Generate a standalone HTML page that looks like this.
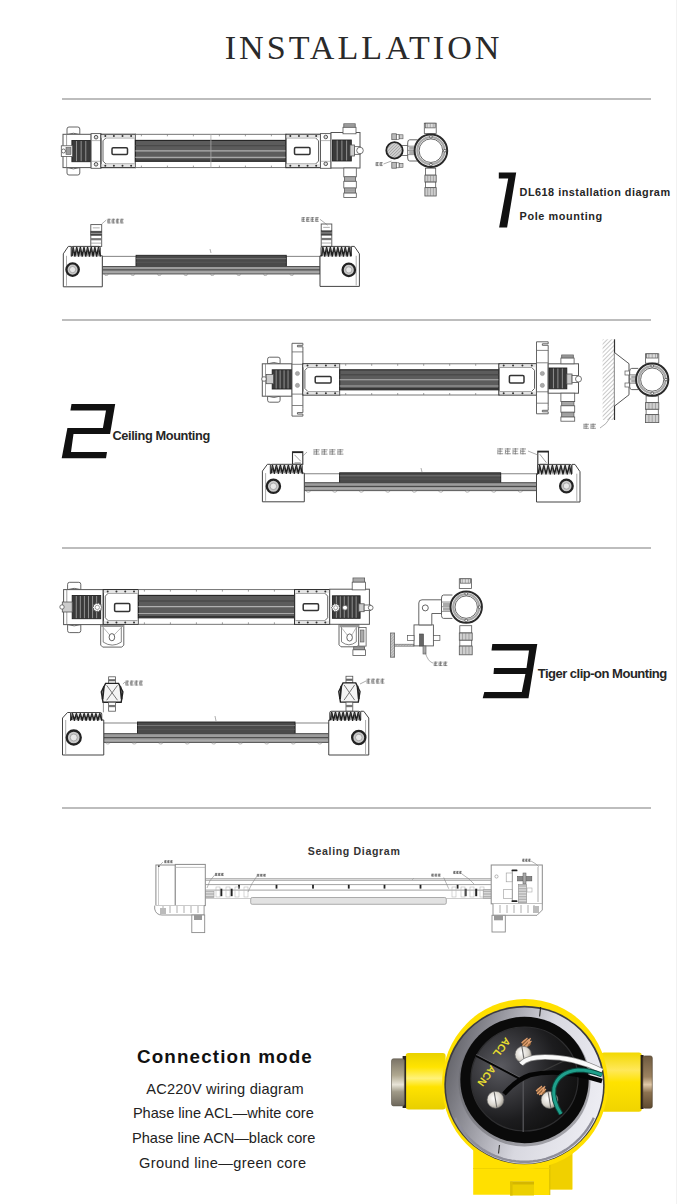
<!DOCTYPE html>
<html><head><meta charset="utf-8">
<style>
html,body{margin:0;padding:0;background:#fff;}
body{width:680px;height:1204px;position:relative;overflow:hidden;font-family:"Liberation Sans",sans-serif;color:#222;}
.t{position:absolute;white-space:nowrap;line-height:1;}
.hr{position:absolute;left:62px;width:589px;height:2px;background:#bdbdbd;}
svg{position:absolute;left:0;top:0;}
</style></head><body>
<div class="t" id="title" style="left:224.7px;top:31.1px;font-family:'Liberation Serif',serif;font-size:34.09px;letter-spacing:3.03px;color:#2a2a2a;">INSTALLATION</div>
<div id="edge" style="position:absolute;left:676px;top:0;width:1px;height:1204px;background:#f2f2f2"></div>
<div class="hr" style="top:98px"></div>
<div class="hr" style="top:319px"></div>
<div class="hr" style="top:547px"></div>
<div class="hr" style="top:807px"></div>
<div class="t" id="t1a" style="color:#262626;left:519.6px;top:187.25px;font-size:10.87px;font-weight:bold;letter-spacing:0.49px;">DL618 installation diagram</div>
<div class="t" id="t1b" style="color:#262626;left:519.6px;top:210.75px;font-size:10.87px;font-weight:bold;letter-spacing:0.6px;">Pole mounting</div>
<div class="t" id="t2" style="color:#262626;left:112.5px;top:430px;font-size:12.75px;font-weight:bold;letter-spacing:-0.38px;">Ceiling Mounting</div>
<div class="t" id="t3" style="color:#262626;left:537.7px;top:666.7px;font-size:13.04px;font-weight:bold;letter-spacing:-0.51px;">Tiger clip-on Mounting</div>
<div class="t" id="t4" style="color:#333;left:307.8px;top:846.4px;font-size:10.58px;font-weight:bold;letter-spacing:0.65px;">Sealing Diagram</div>
<div class="t" id="c0" style="left:136.9px;top:1047.8px;font-size:18.84px;font-weight:bold;letter-spacing:1.14px;color:#111;">Connection mode</div>
<div class="t" id="c1" style="left:146.3px;top:1082.2px;font-size:14.6px;letter-spacing:0.2px;">AC220V wiring diagram</div>
<div class="t" id="c2" style="left:132.9px;top:1106.3px;font-size:14.6px;letter-spacing:0.0px;">Phase line ACL—white core</div>
<div class="t" id="c3" style="left:132px;top:1131.0px;font-size:14.6px;letter-spacing:0.0px;">Phase line ACN—black core</div>
<div class="t" id="c4" style="left:139px;top:1155.6px;font-size:14.6px;letter-spacing:0.35px;">Ground line—green core</div>
<svg width="680" height="1204" viewBox="0 0 680 1204">
<path d="M67.00,134.50 L67.00,129.00 Q67.00,127.00 69.00,127.00 L77.80,127.00 Q79.80,127.00 79.80,129.00 L79.80,134.50 Q73.40,132.00 67.00,134.50Z" fill="#fff" stroke="#555" stroke-width="0.9" />
<path d="M67.00,167.60 L67.00,173.00 Q67.00,175.00 69.00,175.00 L77.80,175.00 Q79.80,175.00 79.80,173.00 L79.80,167.60 Q73.40,170.10 67.00,167.60Z" fill="#fff" stroke="#555" stroke-width="0.9" />
<rect x="63.00" y="134.30" width="28.10" height="33.30" fill="#fff" stroke="#555" stroke-width="1" rx="0" />
<line x1="66.60" y1="134.30" x2="66.60" y2="167.60" stroke="#777" stroke-width="0.7" />
<rect x="71.90" y="140.50" width="18.50" height="21.20" fill="#3a3a3a" stroke="#222" stroke-width="0.9" rx="0" />
<line x1="76.53" y1="141.00" x2="76.53" y2="161.20" stroke="#9a9a9a" stroke-width="0.9" />
<line x1="81.15" y1="141.00" x2="81.15" y2="161.20" stroke="#9a9a9a" stroke-width="0.9" />
<line x1="85.78" y1="141.00" x2="85.78" y2="161.20" stroke="#9a9a9a" stroke-width="0.9" />
<rect x="61.30" y="145.80" width="11.30" height="10.60" fill="#fff" stroke="#555" stroke-width="0.8" rx="0" />
<circle cx="63.50" cy="151.00" r="2.00" fill="#fff" stroke="#555" stroke-width="0.8"/>
<rect x="66.00" y="147.50" width="5.00" height="7.00" fill="#999" stroke="#555" stroke-width="0.6" rx="0" />
<rect x="91.10" y="133.60" width="9.90" height="34.70" fill="#fff" stroke="#555" stroke-width="0.9" rx="0" />
<circle cx="96.05" cy="137.20" r="1.80" fill="#ddd" stroke="#444" stroke-width="0.9"/>
<circle cx="96.05" cy="164.30" r="1.80" fill="#ddd" stroke="#444" stroke-width="0.9"/>
<line x1="91.10" y1="140.60" x2="101.00" y2="140.60" stroke="#888" stroke-width="0.6" />
<line x1="91.10" y1="161.30" x2="101.00" y2="161.30" stroke="#888" stroke-width="0.6" />
<rect x="101.00" y="134.30" width="34.40" height="33.30" fill="#fff" stroke="#333" stroke-width="1.2" rx="0" />
<path d="M134.40,137.80 L106.00,137.80 L103.00,140.80 L103.00,161.10 L106.00,164.10 L134.40,164.10" fill="none" stroke="#555" stroke-width="0.9" />
<rect x="101.50" y="134.80" width="33.40" height="3.00" fill="#e4e4e4" stroke="none" stroke-width="0" rx="0" />
<rect x="101.50" y="164.10" width="33.40" height="3.00" fill="#e4e4e4" stroke="none" stroke-width="0" rx="0" />
<circle cx="105.30" cy="136.10" r="1.00" fill="#333" stroke="none" stroke-width="0"/>
<circle cx="105.30" cy="165.80" r="1.00" fill="#333" stroke="none" stroke-width="0"/>
<circle cx="113.90" cy="136.10" r="1.00" fill="#333" stroke="none" stroke-width="0"/>
<circle cx="113.90" cy="165.80" r="1.00" fill="#333" stroke="none" stroke-width="0"/>
<circle cx="122.50" cy="136.10" r="1.00" fill="#333" stroke="none" stroke-width="0"/>
<circle cx="122.50" cy="165.80" r="1.00" fill="#333" stroke="none" stroke-width="0"/>
<circle cx="131.10" cy="136.10" r="1.00" fill="#333" stroke="none" stroke-width="0"/>
<circle cx="131.10" cy="165.80" r="1.00" fill="#333" stroke="none" stroke-width="0"/>
<rect x="112.00" y="147.80" width="15.50" height="6.60" fill="#fff" stroke="#333" stroke-width="1.5" rx="1.2" />
<rect x="135.40" y="134.30" width="150.60" height="33.30" fill="#fff" stroke="#666" stroke-width="0.9" rx="0" />
<rect x="135.40" y="140.40" width="150.60" height="20.90" fill="#5c5c5c" stroke="#222" stroke-width="1.1" rx="0" />
<line x1="135.40" y1="150.85" x2="286.00" y2="150.85" stroke="#b0b0b0" stroke-width="1.1" />
<line x1="135.40" y1="157.33" x2="286.00" y2="157.33" stroke="#a8a8a8" stroke-width="1.1" />
<line x1="135.40" y1="145.62" x2="286.00" y2="145.62" stroke="#4a4a4a" stroke-width="1.4" />
<line x1="135.40" y1="160.05" x2="286.00" y2="160.05" stroke="#333" stroke-width="1.0" />
<line x1="141.40" y1="134.30" x2="141.40" y2="136.30" stroke="#777" stroke-width="0.7" />
<line x1="141.40" y1="165.60" x2="141.40" y2="167.60" stroke="#777" stroke-width="0.7" />
<line x1="167.40" y1="134.30" x2="167.40" y2="136.30" stroke="#777" stroke-width="0.7" />
<line x1="167.40" y1="165.60" x2="167.40" y2="167.60" stroke="#777" stroke-width="0.7" />
<line x1="193.40" y1="134.30" x2="193.40" y2="136.30" stroke="#777" stroke-width="0.7" />
<line x1="193.40" y1="165.60" x2="193.40" y2="167.60" stroke="#777" stroke-width="0.7" />
<line x1="219.40" y1="134.30" x2="219.40" y2="136.30" stroke="#777" stroke-width="0.7" />
<line x1="219.40" y1="165.60" x2="219.40" y2="167.60" stroke="#777" stroke-width="0.7" />
<line x1="245.40" y1="134.30" x2="245.40" y2="136.30" stroke="#777" stroke-width="0.7" />
<line x1="245.40" y1="165.60" x2="245.40" y2="167.60" stroke="#777" stroke-width="0.7" />
<line x1="271.40" y1="134.30" x2="271.40" y2="136.30" stroke="#777" stroke-width="0.7" />
<line x1="271.40" y1="165.60" x2="271.40" y2="167.60" stroke="#777" stroke-width="0.7" />
<line x1="210.90" y1="134.30" x2="210.90" y2="167.60" stroke="#aaa" stroke-width="0.8" />
<rect x="286.00" y="134.30" width="34.50" height="33.30" fill="#fff" stroke="#333" stroke-width="1.2" rx="0" />
<path d="M287.00,137.80 L315.50,137.80 L318.50,140.80 L318.50,161.10 L315.50,164.10 L287.00,164.10" fill="none" stroke="#555" stroke-width="0.9" />
<rect x="286.50" y="134.80" width="33.50" height="3.00" fill="#e4e4e4" stroke="none" stroke-width="0" rx="0" />
<rect x="286.50" y="164.10" width="33.50" height="3.00" fill="#e4e4e4" stroke="none" stroke-width="0" rx="0" />
<circle cx="290.31" cy="136.10" r="1.00" fill="#333" stroke="none" stroke-width="0"/>
<circle cx="290.31" cy="165.80" r="1.00" fill="#333" stroke="none" stroke-width="0"/>
<circle cx="298.94" cy="136.10" r="1.00" fill="#333" stroke="none" stroke-width="0"/>
<circle cx="298.94" cy="165.80" r="1.00" fill="#333" stroke="none" stroke-width="0"/>
<circle cx="307.56" cy="136.10" r="1.00" fill="#333" stroke="none" stroke-width="0"/>
<circle cx="307.56" cy="165.80" r="1.00" fill="#333" stroke="none" stroke-width="0"/>
<circle cx="316.19" cy="136.10" r="1.00" fill="#333" stroke="none" stroke-width="0"/>
<circle cx="316.19" cy="165.80" r="1.00" fill="#333" stroke="none" stroke-width="0"/>
<rect x="294.50" y="147.50" width="15.50" height="7.00" fill="#fff" stroke="#333" stroke-width="1.5" rx="1.2" />
<rect x="320.50" y="133.60" width="10.50" height="34.70" fill="#fff" stroke="#555" stroke-width="0.9" rx="0" />
<circle cx="325.75" cy="137.00" r="1.80" fill="#ddd" stroke="#444" stroke-width="0.9"/>
<circle cx="325.75" cy="163.80" r="1.80" fill="#ddd" stroke="#444" stroke-width="0.9"/>
<line x1="320.50" y1="140.60" x2="331.00" y2="140.60" stroke="#888" stroke-width="0.6" />
<line x1="320.50" y1="161.30" x2="331.00" y2="161.30" stroke="#888" stroke-width="0.6" />
<rect x="331.00" y="132.50" width="29.00" height="35.50" fill="#fff" stroke="#555" stroke-width="1" rx="0" />
<rect x="332.50" y="140.00" width="18.80" height="21.00" fill="#3a3a3a" stroke="#222" stroke-width="0.9" rx="0" />
<line x1="337.20" y1="140.50" x2="337.20" y2="160.50" stroke="#9a9a9a" stroke-width="0.9" />
<line x1="341.90" y1="140.50" x2="341.90" y2="160.50" stroke="#9a9a9a" stroke-width="0.9" />
<line x1="346.60" y1="140.50" x2="346.60" y2="160.50" stroke="#9a9a9a" stroke-width="0.9" />
<rect x="350.00" y="145.00" width="4.50" height="11.00" fill="#ccc" stroke="#555" stroke-width="0.8" rx="0" />
<rect x="354.50" y="146.65" width="5.50" height="7.70" fill="#fff" stroke="#555" stroke-width="0.8" rx="0" />
<circle cx="360.00" cy="150.50" r="3.30" fill="#fff" stroke="#555" stroke-width="0.8"/>
<rect x="343.80" y="123.80" width="11.40" height="3.50" fill="#dcdcdc" stroke="#555" stroke-width="0.8" rx="0" />
<rect x="343.00" y="127.30" width="13.00" height="6.50" fill="#fff" stroke="#555" stroke-width="0.8" rx="0" />
<line x1="344.00" y1="124.67" x2="355.00" y2="124.67" stroke="#666" stroke-width="0.5" />
<line x1="344.00" y1="125.55" x2="355.00" y2="125.55" stroke="#666" stroke-width="0.5" />
<line x1="344.00" y1="126.42" x2="355.00" y2="126.42" stroke="#666" stroke-width="0.5" />
<rect x="343.80" y="168.00" width="12.50" height="8.85" fill="#fff" stroke="#555" stroke-width="0.8" rx="0" />
<rect x="344.60" y="176.85" width="10.90" height="4.43" fill="#d8d8d8" stroke="#555" stroke-width="0.8" rx="0" />
<rect x="343.80" y="181.28" width="12.50" height="6.79" fill="#fff" stroke="#555" stroke-width="0.8" rx="0" />
<rect x="344.60" y="188.06" width="10.90" height="5.01" fill="#d0d0d0" stroke="#555" stroke-width="0.8" rx="0" />
<rect x="343.80" y="193.07" width="12.50" height="4.43" fill="#fff" stroke="#555" stroke-width="0.8" rx="0" />
<line x1="344.80" y1="177.96" x2="355.30" y2="177.96" stroke="#666" stroke-width="0.5" />
<line x1="344.80" y1="179.06" x2="355.30" y2="179.06" stroke="#666" stroke-width="0.5" />
<line x1="344.80" y1="180.17" x2="355.30" y2="180.17" stroke="#666" stroke-width="0.5" />
<line x1="344.80" y1="189.31" x2="355.30" y2="189.31" stroke="#666" stroke-width="0.5" />
<line x1="344.80" y1="190.57" x2="355.30" y2="190.57" stroke="#666" stroke-width="0.5" />
<line x1="344.80" y1="191.82" x2="355.30" y2="191.82" stroke="#666" stroke-width="0.5" />
<rect x="90.80" y="224.60" width="10.90" height="21.80" fill="#fff" stroke="#555" stroke-width="0.9" rx="0" />
<rect x="90.80" y="231.14" width="10.90" height="4.36" fill="#444" stroke="#444" stroke-width="0.5" rx="0" />
<line x1="90.80" y1="233.32" x2="101.70" y2="233.32" stroke="#ddd" stroke-width="0.6" />
<rect x="90.80" y="238.12" width="10.90" height="2.18" fill="#777" stroke="none" stroke-width="0" rx="0" />
<line x1="92.80" y1="227.87" x2="99.70" y2="227.87" stroke="#777" stroke-width="0.6" />
<line x1="90.80" y1="243.13" x2="101.70" y2="243.13" stroke="#777" stroke-width="0.6" />
<line x1="101.70" y1="224.00" x2="106.30" y2="220.00" stroke="#777" stroke-width="0.6" />
<path d="M107.30,219.32 L110.74,219.32 M107.94,221.00 L110.31,221.00 M107.30,222.92 L110.74,222.92 M109.02,218.60 L109.02,223.40 M107.73,220.04 L107.73,222.44" fill="none" stroke="#666" stroke-width="0.7" />
<path d="M111.60,219.32 L115.04,219.32 M112.24,221.00 L114.61,221.00 M111.60,222.92 L115.04,222.92 M113.32,218.60 L113.32,223.40 M112.03,220.04 L112.03,222.44" fill="none" stroke="#666" stroke-width="0.7" />
<path d="M115.90,219.32 L119.34,219.32 M116.54,221.00 L118.91,221.00 M115.90,222.92 L119.34,222.92 M117.62,218.60 L117.62,223.40 M116.33,220.04 L116.33,222.44" fill="none" stroke="#666" stroke-width="0.7" />
<path d="M120.20,219.32 L123.64,219.32 M120.84,221.00 L123.21,221.00 M120.20,222.92 L123.64,222.92 M121.92,218.60 L121.92,223.40 M120.63,220.04 L120.63,222.44" fill="none" stroke="#666" stroke-width="0.7" />
<rect x="321.20" y="224.00" width="10.60" height="22.40" fill="#fff" stroke="#555" stroke-width="0.9" rx="0" />
<rect x="321.20" y="230.72" width="10.60" height="4.48" fill="#444" stroke="#444" stroke-width="0.5" rx="0" />
<line x1="321.20" y1="232.96" x2="331.80" y2="232.96" stroke="#ddd" stroke-width="0.6" />
<rect x="321.20" y="237.89" width="10.60" height="2.24" fill="#777" stroke="none" stroke-width="0" rx="0" />
<line x1="323.20" y1="227.36" x2="329.80" y2="227.36" stroke="#777" stroke-width="0.6" />
<line x1="321.20" y1="243.04" x2="331.80" y2="243.04" stroke="#777" stroke-width="0.6" />
<line x1="320.00" y1="219.30" x2="327.60" y2="225.20" stroke="#777" stroke-width="0.6" />
<path d="M301.50,217.72 L305.14,217.72 M302.18,219.40 L304.69,219.40 M301.50,221.32 L305.14,221.32 M303.32,217.00 L303.32,221.80 M301.95,218.44 L301.95,220.84" fill="none" stroke="#666" stroke-width="0.7" />
<path d="M306.05,217.72 L309.69,217.72 M306.73,219.40 L309.24,219.40 M306.05,221.32 L309.69,221.32 M307.87,217.00 L307.87,221.80 M306.50,218.44 L306.50,220.84" fill="none" stroke="#666" stroke-width="0.7" />
<path d="M310.60,217.72 L314.24,217.72 M311.28,219.40 L313.78,219.40 M310.60,221.32 L314.24,221.32 M312.42,217.00 L312.42,221.80 M311.05,218.44 L311.05,220.84" fill="none" stroke="#666" stroke-width="0.7" />
<path d="M315.15,217.72 L318.79,217.72 M315.83,219.40 L318.33,219.40 M315.15,221.32 L318.79,221.32 M316.97,217.00 L316.97,221.80 M315.60,218.44 L315.60,220.84" fill="none" stroke="#666" stroke-width="0.7" />
<rect x="102.30" y="256.30" width="33.80" height="10.20" fill="#fff" stroke="#666" stroke-width="0.8" rx="0" />
<rect x="286.25" y="256.30" width="33.75" height="10.20" fill="#fff" stroke="#666" stroke-width="0.8" rx="0" />
<rect x="136.10" y="255.30" width="150.15" height="11.20" fill="#4a4a4a" stroke="#222" stroke-width="0.9" rx="0" />
<line x1="136.10" y1="258.66" x2="286.25" y2="258.66" stroke="#8a8a8a" stroke-width="0.7" />
<line x1="136.10" y1="262.24" x2="286.25" y2="262.24" stroke="#5a5a5a" stroke-width="0.8" />
<rect x="102.30" y="266.50" width="217.70" height="7.50" fill="#9c9c9c" stroke="#444" stroke-width="0.8" rx="0" />
<line x1="102.30" y1="269.88" x2="320.00" y2="269.88" stroke="#333" stroke-width="0.9" />
<line x1="102.30" y1="272.12" x2="320.00" y2="272.12" stroke="#bbb" stroke-width="0.6" />
<ellipse cx="106.30" cy="274.60" rx="1.8" ry="0.9" fill="none" stroke="#888" stroke-width="0.6"/>
<ellipse cx="132.80" cy="274.60" rx="1.8" ry="0.9" fill="none" stroke="#888" stroke-width="0.6"/>
<ellipse cx="159.30" cy="274.60" rx="1.8" ry="0.9" fill="none" stroke="#888" stroke-width="0.6"/>
<ellipse cx="185.80" cy="274.60" rx="1.8" ry="0.9" fill="none" stroke="#888" stroke-width="0.6"/>
<ellipse cx="212.30" cy="274.60" rx="1.8" ry="0.9" fill="none" stroke="#888" stroke-width="0.6"/>
<ellipse cx="238.80" cy="274.60" rx="1.8" ry="0.9" fill="none" stroke="#888" stroke-width="0.6"/>
<ellipse cx="265.30" cy="274.60" rx="1.8" ry="0.9" fill="none" stroke="#888" stroke-width="0.6"/>
<ellipse cx="291.80" cy="274.60" rx="1.8" ry="0.9" fill="none" stroke="#888" stroke-width="0.6"/>
<path d="M63.30,286.80 L63.30,253.80 L68.30,246.40 L71.30,246.40 L71.30,255.80 L102.30,255.80 L102.30,286.80 Z" fill="#fff" stroke="#444" stroke-width="1" />
<line x1="66.50" y1="255.80" x2="66.50" y2="285.80" stroke="#888" stroke-width="0.7" />
<path d="M71.30,256.80 L71.30,247.90 Q71.30,246.40 72.80,246.40 L98.80,246.40 Q100.30,246.40 100.30,247.90 L100.30,256.80" fill="#e8e8e8" stroke="#333" stroke-width="0.9" />
<path d="M72.10,256.00 L73.11,247.60 L74.92,256.00 L76.74,247.60 L78.55,256.00 L80.36,247.60 L82.17,256.00 L83.99,247.60 L85.80,256.00 L87.61,247.60 L89.42,256.00 L91.24,247.60 L93.05,256.00 L94.86,247.60 L96.67,256.00 L98.49,247.60 L100.30,256.00" fill="none" stroke="#1e1e1e" stroke-width="1.5" stroke-linejoin="round"/>
<path d="M73.11,248.40 L73.11,255.80 M76.74,248.40 L76.74,255.80 M80.36,248.40 L80.36,255.80 M83.99,248.40 L83.99,255.80 M87.61,248.40 L87.61,255.80 M91.24,248.40 L91.24,255.80 M94.86,248.40 L94.86,255.80 M98.49,248.40 L98.49,255.80 " fill="none" stroke="#555" stroke-width="0.7" />
<circle cx="72.60" cy="269.60" r="6.20" fill="#c8c8c8" stroke="#222" stroke-width="2.3"/>
<circle cx="72.60" cy="269.60" r="3.10" fill="#e8e8e8" stroke="#888" stroke-width="0.6"/>
<path d="M359.40,286.40 L359.40,253.80 L354.40,246.40 L351.40,246.40 L351.40,255.80 L320.00,255.80 L320.00,286.40 Z" fill="#fff" stroke="#444" stroke-width="1" />
<line x1="356.20" y1="255.80" x2="356.20" y2="285.40" stroke="#888" stroke-width="0.7" />
<path d="M321.00,256.80 L321.00,247.90 Q321.00,246.40 322.50,246.40 L349.40,246.40 Q350.90,246.40 350.90,247.90 L350.90,256.80" fill="#e8e8e8" stroke="#333" stroke-width="0.9" />
<path d="M321.80,256.00 L322.87,247.60 L324.74,256.00 L326.61,247.60 L328.48,256.00 L330.34,247.60 L332.21,256.00 L334.08,247.60 L335.95,256.00 L337.82,247.60 L339.69,256.00 L341.56,247.60 L343.43,256.00 L345.29,247.60 L347.16,256.00 L349.03,247.60 L350.90,256.00" fill="none" stroke="#1e1e1e" stroke-width="1.5" stroke-linejoin="round"/>
<path d="M322.87,248.40 L322.87,255.80 M326.61,248.40 L326.61,255.80 M330.34,248.40 L330.34,255.80 M334.08,248.40 L334.08,255.80 M337.82,248.40 L337.82,255.80 M341.56,248.40 L341.56,255.80 M345.29,248.40 L345.29,255.80 M349.03,248.40 L349.03,255.80 " fill="none" stroke="#555" stroke-width="0.7" />
<circle cx="348.80" cy="269.90" r="6.20" fill="#c8c8c8" stroke="#222" stroke-width="2.3"/>
<circle cx="348.80" cy="269.90" r="3.10" fill="#e8e8e8" stroke="#888" stroke-width="0.6"/>
<line x1="211.00" y1="253.00" x2="210.00" y2="249.00" stroke="#777" stroke-width="0.6" />
<rect x="391.80" y="133.80" width="4.50" height="5.90" fill="#bbb" stroke="#555" stroke-width="0.7" rx="0" />
<rect x="396.50" y="134.30" width="2.50" height="5.00" fill="#fff" stroke="#555" stroke-width="0.6" rx="0" />
<rect x="399.50" y="134.80" width="3.50" height="4.00" fill="#ccc" stroke="#555" stroke-width="0.6" rx="0" />
<rect x="391.80" y="162.30" width="4.50" height="5.90" fill="#bbb" stroke="#555" stroke-width="0.7" rx="0" />
<rect x="396.50" y="162.80" width="2.50" height="5.00" fill="#fff" stroke="#555" stroke-width="0.6" rx="0" />
<rect x="399.50" y="163.30" width="3.50" height="4.00" fill="#ccc" stroke="#555" stroke-width="0.6" rx="0" />
<rect x="400.00" y="145.50" width="9.00" height="10.00" fill="#fff" stroke="#555" stroke-width="0.8" rx="0" />
<defs><pattern id="hatch" width="2.2" height="2.2" patternUnits="userSpaceOnUse" patternTransform="rotate(45)"><rect width="2.2" height="2.2" fill="#d0d0d0"/><line x1="0" y1="0" x2="0" y2="2.2" stroke="#888" stroke-width="0.9"/></pattern></defs>
<circle cx="394.50" cy="150.40" r="8.20" fill="url(#hatch)" stroke="#222" stroke-width="1.8"/>
<rect x="424.30" y="123.20" width="11.90" height="10.40" fill="#fff" stroke="#555" stroke-width="0.8" rx="0" />
<rect x="425.30" y="123.20" width="9.90" height="4.68" fill="#ddd" stroke="#555" stroke-width="0.7" rx="0" />
<line x1="427.27" y1="123.20" x2="427.27" y2="127.88" stroke="#777" stroke-width="0.5" />
<line x1="430.25" y1="123.20" x2="430.25" y2="127.88" stroke="#777" stroke-width="0.5" />
<line x1="433.23" y1="123.20" x2="433.23" y2="127.88" stroke="#777" stroke-width="0.5" />
<rect x="425.40" y="168.20" width="10.30" height="6.95" fill="#fff" stroke="#555" stroke-width="0.8" rx="0" />
<rect x="424.90" y="175.15" width="11.30" height="6.95" fill="#cfcfcf" stroke="#555" stroke-width="0.8" rx="0" />
<rect x="425.40" y="182.10" width="10.30" height="5.56" fill="#fff" stroke="#555" stroke-width="0.8" rx="0" />
<rect x="424.90" y="187.66" width="11.30" height="8.34" fill="#cfcfcf" stroke="#555" stroke-width="0.8" rx="0" />
<line x1="427.72" y1="175.15" x2="427.72" y2="182.10" stroke="#777" stroke-width="0.5" />
<line x1="430.55" y1="175.15" x2="430.55" y2="182.10" stroke="#777" stroke-width="0.5" />
<line x1="433.38" y1="175.15" x2="433.38" y2="182.10" stroke="#777" stroke-width="0.5" />
<line x1="427.72" y1="187.66" x2="427.72" y2="196.00" stroke="#777" stroke-width="0.5" />
<line x1="430.55" y1="187.66" x2="430.55" y2="196.00" stroke="#777" stroke-width="0.5" />
<line x1="433.38" y1="187.66" x2="433.38" y2="196.00" stroke="#777" stroke-width="0.5" />
<path d="M417.70,139.80 L409.70,139.80 Q407.70,139.80 407.70,142.80 L407.70,158.00 Q407.70,161.00 409.70,161.00 L417.70,161.00" fill="#fff" stroke="#555" stroke-width="0.9" />
<line x1="407.70" y1="146.16" x2="415.70" y2="146.16" stroke="#666" stroke-width="0.7" />
<line x1="407.70" y1="150.40" x2="415.70" y2="150.40" stroke="#666" stroke-width="0.7" />
<line x1="407.70" y1="154.64" x2="415.70" y2="154.64" stroke="#666" stroke-width="0.7" />
<rect x="409.20" y="146.80" width="7.00" height="2.97" fill="#aaa" stroke="none" stroke-width="0" rx="0" />
<rect x="409.20" y="151.04" width="7.00" height="2.97" fill="#aaa" stroke="none" stroke-width="0" rx="0" />
<circle cx="430.90" cy="150.70" r="16.30" fill="#fff" stroke="#2a2a2a" stroke-width="2.0"/>
<circle cx="430.90" cy="150.70" r="13.60" fill="none" stroke="#a8a8a8" stroke-width="2.2"/>
<circle cx="430.90" cy="150.70" r="11.80" fill="#fff" stroke="#444" stroke-width="0.8"/>
<circle cx="430.90" cy="136.80" r="1.30" fill="#fff" stroke="#333" stroke-width="0.7"/>
<circle cx="430.90" cy="164.60" r="1.30" fill="#fff" stroke="#333" stroke-width="0.7"/>
<circle cx="444.80" cy="150.70" r="1.30" fill="#fff" stroke="#333" stroke-width="0.7"/>
<line x1="383.50" y1="164.00" x2="391.50" y2="161.00" stroke="#777" stroke-width="0.6" />
<path d="M375.60,162.60 L378.76,162.60 M376.19,164.00 L378.37,164.00 M375.60,165.60 L378.76,165.60 M377.18,162.00 L377.18,166.00 M376.00,163.20 L376.00,165.20" fill="none" stroke="#666" stroke-width="0.7" />
<path d="M379.55,162.60 L382.71,162.60 M380.14,164.00 L382.31,164.00 M379.55,165.60 L382.71,165.60 M381.13,162.00 L381.13,166.00 M379.94,163.20 L379.94,165.20" fill="none" stroke="#666" stroke-width="0.7" />
<path d="M267.60,363.80 L267.60,359.20 Q267.60,357.20 269.60,357.20 L278.10,357.20 Q280.10,357.20 280.10,359.20 L280.10,363.80 Q273.85,361.30 267.60,363.80Z" fill="#fff" stroke="#555" stroke-width="0.9" />
<path d="M267.60,396.20 L267.60,400.20 Q267.60,402.20 269.60,402.20 L278.10,402.20 Q280.10,402.20 280.10,400.20 L280.10,396.20 Q273.85,398.70 267.60,396.20Z" fill="#fff" stroke="#555" stroke-width="0.9" />
<rect x="262.30" y="363.80" width="29.70" height="32.40" fill="#fff" stroke="#555" stroke-width="1" rx="0" />
<line x1="265.50" y1="363.80" x2="265.50" y2="396.20" stroke="#777" stroke-width="0.7" />
<rect x="272.20" y="369.80" width="19.80" height="19.20" fill="#3a3a3a" stroke="#222" stroke-width="0.9" rx="0" />
<line x1="276.16" y1="370.30" x2="276.16" y2="388.50" stroke="#9a9a9a" stroke-width="0.9" />
<line x1="280.12" y1="370.30" x2="280.12" y2="388.50" stroke="#9a9a9a" stroke-width="0.9" />
<line x1="284.08" y1="370.30" x2="284.08" y2="388.50" stroke="#9a9a9a" stroke-width="0.9" />
<line x1="288.04" y1="370.30" x2="288.04" y2="388.50" stroke="#9a9a9a" stroke-width="0.9" />
<rect x="266.20" y="374.40" width="7.30" height="9.30" fill="#ccc" stroke="#555" stroke-width="0.8" rx="0" />
<circle cx="264.00" cy="379.00" r="2.30" fill="#fff" stroke="#555" stroke-width="0.8"/>
<path d="M292.00,343.30 L302.90,343.30 L302.90,345.30 L297.45,345.30 L297.45,346.80 L302.90,346.80 L302.90,350.80 L302.90,408.60 L302.90,412.60 L297.45,412.60 L297.45,414.10 L302.90,414.10 L302.90,416.10 L292.00,416.10 Z" fill="#fff" stroke="#555" stroke-width="0.9" />
<line x1="292.00" y1="351.90" x2="302.90" y2="351.90" stroke="#666" stroke-width="0.8" />
<line x1="292.00" y1="364.30" x2="302.90" y2="364.30" stroke="#666" stroke-width="0.8" />
<line x1="292.00" y1="394.10" x2="302.90" y2="394.10" stroke="#666" stroke-width="0.8" />
<line x1="292.00" y1="405.50" x2="302.90" y2="405.50" stroke="#666" stroke-width="0.8" />
<circle cx="297.45" cy="373.50" r="2.10" fill="#aaa" stroke="#888" stroke-width="0.5"/>
<circle cx="297.45" cy="385.40" r="2.10" fill="#aaa" stroke="#888" stroke-width="0.5"/>
<rect x="302.90" y="363.80" width="36.80" height="31.20" fill="#fff" stroke="#333" stroke-width="1.2" rx="0" />
<path d="M338.70,367.30 L307.90,367.30 L304.90,370.30 L304.90,388.50 L307.90,391.50 L338.70,391.50" fill="none" stroke="#555" stroke-width="0.9" />
<rect x="303.40" y="364.30" width="35.80" height="3.00" fill="#e4e4e4" stroke="none" stroke-width="0" rx="0" />
<rect x="303.40" y="391.50" width="35.80" height="3.00" fill="#e4e4e4" stroke="none" stroke-width="0" rx="0" />
<circle cx="307.50" cy="365.60" r="1.00" fill="#333" stroke="none" stroke-width="0"/>
<circle cx="307.50" cy="393.20" r="1.00" fill="#333" stroke="none" stroke-width="0"/>
<circle cx="316.70" cy="365.60" r="1.00" fill="#333" stroke="none" stroke-width="0"/>
<circle cx="316.70" cy="393.20" r="1.00" fill="#333" stroke="none" stroke-width="0"/>
<circle cx="325.90" cy="365.60" r="1.00" fill="#333" stroke="none" stroke-width="0"/>
<circle cx="325.90" cy="393.20" r="1.00" fill="#333" stroke="none" stroke-width="0"/>
<circle cx="335.10" cy="365.60" r="1.00" fill="#333" stroke="none" stroke-width="0"/>
<circle cx="335.10" cy="393.20" r="1.00" fill="#333" stroke="none" stroke-width="0"/>
<rect x="315.20" y="376.40" width="15.90" height="6.60" fill="#fff" stroke="#333" stroke-width="1.5" rx="1.2" />
<rect x="339.70" y="363.80" width="159.30" height="31.20" fill="#fff" stroke="#666" stroke-width="0.9" rx="0" />
<rect x="339.70" y="369.80" width="159.30" height="20.00" fill="#5c5c5c" stroke="#222" stroke-width="1.1" rx="0" />
<line x1="339.70" y1="379.80" x2="499.00" y2="379.80" stroke="#b0b0b0" stroke-width="1.1" />
<line x1="339.70" y1="386.00" x2="499.00" y2="386.00" stroke="#a8a8a8" stroke-width="1.1" />
<line x1="339.70" y1="374.80" x2="499.00" y2="374.80" stroke="#4a4a4a" stroke-width="1.4" />
<line x1="339.70" y1="388.60" x2="499.00" y2="388.60" stroke="#333" stroke-width="1.0" />
<line x1="345.70" y1="363.80" x2="345.70" y2="365.80" stroke="#777" stroke-width="0.7" />
<line x1="345.70" y1="393.00" x2="345.70" y2="395.00" stroke="#777" stroke-width="0.7" />
<line x1="371.70" y1="363.80" x2="371.70" y2="365.80" stroke="#777" stroke-width="0.7" />
<line x1="371.70" y1="393.00" x2="371.70" y2="395.00" stroke="#777" stroke-width="0.7" />
<line x1="397.70" y1="363.80" x2="397.70" y2="365.80" stroke="#777" stroke-width="0.7" />
<line x1="397.70" y1="393.00" x2="397.70" y2="395.00" stroke="#777" stroke-width="0.7" />
<line x1="423.70" y1="363.80" x2="423.70" y2="365.80" stroke="#777" stroke-width="0.7" />
<line x1="423.70" y1="393.00" x2="423.70" y2="395.00" stroke="#777" stroke-width="0.7" />
<line x1="449.70" y1="363.80" x2="449.70" y2="365.80" stroke="#777" stroke-width="0.7" />
<line x1="449.70" y1="393.00" x2="449.70" y2="395.00" stroke="#777" stroke-width="0.7" />
<line x1="475.70" y1="363.80" x2="475.70" y2="365.80" stroke="#777" stroke-width="0.7" />
<line x1="475.70" y1="393.00" x2="475.70" y2="395.00" stroke="#777" stroke-width="0.7" />
<rect x="499.00" y="363.80" width="37.50" height="31.20" fill="#fff" stroke="#333" stroke-width="1.2" rx="0" />
<path d="M500.00,367.30 L531.50,367.30 L534.50,370.30 L534.50,388.50 L531.50,391.50 L500.00,391.50" fill="none" stroke="#555" stroke-width="0.9" />
<rect x="499.50" y="364.30" width="36.50" height="3.00" fill="#e4e4e4" stroke="none" stroke-width="0" rx="0" />
<rect x="499.50" y="391.50" width="36.50" height="3.00" fill="#e4e4e4" stroke="none" stroke-width="0" rx="0" />
<circle cx="503.69" cy="365.60" r="1.00" fill="#333" stroke="none" stroke-width="0"/>
<circle cx="503.69" cy="393.20" r="1.00" fill="#333" stroke="none" stroke-width="0"/>
<circle cx="513.06" cy="365.60" r="1.00" fill="#333" stroke="none" stroke-width="0"/>
<circle cx="513.06" cy="393.20" r="1.00" fill="#333" stroke="none" stroke-width="0"/>
<circle cx="522.44" cy="365.60" r="1.00" fill="#333" stroke="none" stroke-width="0"/>
<circle cx="522.44" cy="393.20" r="1.00" fill="#333" stroke="none" stroke-width="0"/>
<circle cx="531.81" cy="365.60" r="1.00" fill="#333" stroke="none" stroke-width="0"/>
<circle cx="531.81" cy="393.20" r="1.00" fill="#333" stroke="none" stroke-width="0"/>
<rect x="509.40" y="375.60" width="14.60" height="7.40" fill="#fff" stroke="#333" stroke-width="1.5" rx="1.2" />
<path d="M536.50,341.80 L548.20,341.80 L548.20,343.80 L542.35,343.80 L542.35,345.30 L548.20,345.30 L548.20,349.30 L548.20,406.30 L548.20,410.30 L542.35,410.30 L542.35,411.80 L548.20,411.80 L548.20,413.80 L536.50,413.80 Z" fill="#fff" stroke="#555" stroke-width="0.9" />
<line x1="536.50" y1="350.40" x2="548.20" y2="350.40" stroke="#666" stroke-width="0.8" />
<line x1="536.50" y1="362.80" x2="548.20" y2="362.80" stroke="#666" stroke-width="0.8" />
<line x1="536.50" y1="391.80" x2="548.20" y2="391.80" stroke="#666" stroke-width="0.8" />
<line x1="536.50" y1="403.20" x2="548.20" y2="403.20" stroke="#666" stroke-width="0.8" />
<circle cx="542.35" cy="373.50" r="2.10" fill="#aaa" stroke="#888" stroke-width="0.5"/>
<circle cx="542.35" cy="385.40" r="2.10" fill="#aaa" stroke="#888" stroke-width="0.5"/>
<rect x="548.20" y="363.80" width="30.30" height="29.40" fill="#fff" stroke="#555" stroke-width="1" rx="0" />
<rect x="549.00" y="368.00" width="17.80" height="20.80" fill="#3a3a3a" stroke="#222" stroke-width="0.9" rx="0" />
<line x1="553.45" y1="368.50" x2="553.45" y2="388.30" stroke="#9a9a9a" stroke-width="0.9" />
<line x1="557.90" y1="368.50" x2="557.90" y2="388.30" stroke="#9a9a9a" stroke-width="0.9" />
<line x1="562.35" y1="368.50" x2="562.35" y2="388.30" stroke="#9a9a9a" stroke-width="0.9" />
<rect x="566.80" y="374.00" width="5.27" height="10.00" fill="#ccc" stroke="#555" stroke-width="0.8" rx="0" />
<rect x="572.06" y="375.50" width="6.44" height="7.00" fill="#fff" stroke="#555" stroke-width="0.8" rx="0" />
<circle cx="578.50" cy="379.00" r="3.00" fill="#fff" stroke="#555" stroke-width="0.8"/>
<rect x="561.70" y="355.00" width="11.60" height="3.08" fill="#dcdcdc" stroke="#555" stroke-width="0.8" rx="0" />
<rect x="560.90" y="358.08" width="13.20" height="5.72" fill="#fff" stroke="#555" stroke-width="0.8" rx="0" />
<line x1="561.90" y1="355.77" x2="573.10" y2="355.77" stroke="#666" stroke-width="0.5" />
<line x1="561.90" y1="356.54" x2="573.10" y2="356.54" stroke="#666" stroke-width="0.5" />
<line x1="561.90" y1="357.31" x2="573.10" y2="357.31" stroke="#666" stroke-width="0.5" />
<rect x="560.90" y="393.20" width="13.80" height="8.40" fill="#fff" stroke="#555" stroke-width="0.8" rx="0" />
<rect x="561.70" y="401.60" width="12.20" height="4.20" fill="#d8d8d8" stroke="#555" stroke-width="0.8" rx="0" />
<rect x="560.90" y="405.80" width="13.80" height="6.44" fill="#fff" stroke="#555" stroke-width="0.8" rx="0" />
<rect x="561.70" y="412.24" width="12.20" height="4.76" fill="#d0d0d0" stroke="#555" stroke-width="0.8" rx="0" />
<rect x="560.90" y="417.00" width="13.80" height="4.20" fill="#fff" stroke="#555" stroke-width="0.8" rx="0" />
<line x1="561.90" y1="402.65" x2="573.70" y2="402.65" stroke="#666" stroke-width="0.5" />
<line x1="561.90" y1="403.70" x2="573.70" y2="403.70" stroke="#666" stroke-width="0.5" />
<line x1="561.90" y1="404.75" x2="573.70" y2="404.75" stroke="#666" stroke-width="0.5" />
<line x1="561.90" y1="413.43" x2="573.70" y2="413.43" stroke="#666" stroke-width="0.5" />
<line x1="561.90" y1="414.62" x2="573.70" y2="414.62" stroke="#666" stroke-width="0.5" />
<line x1="561.90" y1="415.81" x2="573.70" y2="415.81" stroke="#666" stroke-width="0.5" />
<defs><pattern id="whatch" width="3" height="3" patternUnits="userSpaceOnUse" patternTransform="rotate(45)"><rect width="3" height="3" fill="#fff"/><line x1="0" y1="0" x2="0" y2="3" stroke="#888" stroke-width="0.9"/></pattern></defs>
<rect x="602.60" y="339.30" width="11.90" height="80.70" fill="url(#whatch)" stroke="none" stroke-width="0" rx="0" />
<line x1="614.50" y1="339.30" x2="614.50" y2="420.00" stroke="#333" stroke-width="1.2" />
<path d="M614.50,352.50 L629.00,363.70 L629.00,394.80 L614.50,406.10" fill="#fff" stroke="#444" stroke-width="0.9" />
<rect x="625.00" y="371.00" width="4.70" height="4.00" fill="#fff" stroke="#555" stroke-width="0.7" rx="0" />
<rect x="625.00" y="383.00" width="4.70" height="4.00" fill="#fff" stroke="#555" stroke-width="0.7" rx="0" />
<rect x="645.60" y="353.80" width="13.20" height="9.40" fill="#fff" stroke="#555" stroke-width="0.8" rx="0" />
<rect x="646.60" y="353.80" width="11.20" height="4.23" fill="#ddd" stroke="#555" stroke-width="0.7" rx="0" />
<line x1="648.90" y1="353.80" x2="648.90" y2="358.03" stroke="#777" stroke-width="0.5" />
<line x1="652.20" y1="353.80" x2="652.20" y2="358.03" stroke="#777" stroke-width="0.5" />
<line x1="655.50" y1="353.80" x2="655.50" y2="358.03" stroke="#777" stroke-width="0.5" />
<rect x="646.10" y="396.00" width="12.20" height="6.65" fill="#fff" stroke="#555" stroke-width="0.8" rx="0" />
<rect x="645.60" y="402.65" width="13.20" height="6.65" fill="#cfcfcf" stroke="#555" stroke-width="0.8" rx="0" />
<rect x="646.10" y="409.30" width="12.20" height="5.32" fill="#fff" stroke="#555" stroke-width="0.8" rx="0" />
<rect x="645.60" y="414.62" width="13.20" height="7.98" fill="#cfcfcf" stroke="#555" stroke-width="0.8" rx="0" />
<line x1="648.90" y1="402.65" x2="648.90" y2="409.30" stroke="#777" stroke-width="0.5" />
<line x1="652.20" y1="402.65" x2="652.20" y2="409.30" stroke="#777" stroke-width="0.5" />
<line x1="655.50" y1="402.65" x2="655.50" y2="409.30" stroke="#777" stroke-width="0.5" />
<line x1="648.90" y1="414.62" x2="648.90" y2="422.60" stroke="#777" stroke-width="0.5" />
<line x1="652.20" y1="414.62" x2="652.20" y2="422.60" stroke="#777" stroke-width="0.5" />
<line x1="655.50" y1="414.62" x2="655.50" y2="422.60" stroke="#777" stroke-width="0.5" />
<path d="M638.30,368.40 L631.70,368.40 Q629.70,368.40 629.70,371.40 L629.70,386.60 Q629.70,389.60 631.70,389.60 L638.30,389.60" fill="#fff" stroke="#555" stroke-width="0.9" />
<line x1="629.70" y1="374.76" x2="636.30" y2="374.76" stroke="#666" stroke-width="0.7" />
<line x1="629.70" y1="379.00" x2="636.30" y2="379.00" stroke="#666" stroke-width="0.7" />
<line x1="629.70" y1="383.24" x2="636.30" y2="383.24" stroke="#666" stroke-width="0.7" />
<rect x="631.20" y="375.40" width="5.60" height="2.97" fill="#aaa" stroke="none" stroke-width="0" rx="0" />
<rect x="631.20" y="379.64" width="5.60" height="2.97" fill="#aaa" stroke="none" stroke-width="0" rx="0" />
<circle cx="652.20" cy="379.60" r="16.10" fill="#fff" stroke="#2a2a2a" stroke-width="2.0"/>
<circle cx="652.20" cy="379.60" r="13.40" fill="none" stroke="#a8a8a8" stroke-width="2.2"/>
<circle cx="652.20" cy="379.60" r="11.60" fill="#fff" stroke="#444" stroke-width="0.8"/>
<circle cx="652.20" cy="365.90" r="1.30" fill="#fff" stroke="#333" stroke-width="0.7"/>
<circle cx="652.20" cy="393.30" r="1.30" fill="#fff" stroke="#333" stroke-width="0.7"/>
<circle cx="665.90" cy="379.60" r="1.30" fill="#fff" stroke="#333" stroke-width="0.7"/>
<path d="M611,416.7 Q606,425 600,428" fill="none" stroke="#777" stroke-width="0.6" />
<path d="M583.30,424.30 L588.90,424.30 M584.35,426.15 L588.20,426.15 M583.30,428.27 L588.90,428.27 M586.10,423.50 L586.10,428.80 M584.00,425.09 L584.00,427.74" fill="none" stroke="#666" stroke-width="0.7" />
<path d="M590.30,424.30 L595.90,424.30 M591.35,426.15 L595.20,426.15 M590.30,428.27 L595.90,428.27 M593.10,423.50 L593.10,428.80 M591.00,425.09 L591.00,427.74" fill="none" stroke="#666" stroke-width="0.7" />
<rect x="292.50" y="451.80" width="10.30" height="12.50" fill="#fff" stroke="#333" stroke-width="1.1" rx="0" />
<line x1="292.50" y1="452.40" x2="302.80" y2="452.40" stroke="#222" stroke-width="1.4" />
<line x1="294.50" y1="454.80" x2="300.80" y2="461.30" stroke="#777" stroke-width="0.7" />
<line x1="294.50" y1="462.80" x2="300.80" y2="462.80" stroke="#777" stroke-width="0.7" />
<line x1="302.80" y1="456.00" x2="307.00" y2="452.00" stroke="#777" stroke-width="0.6" />
<path d="M313.30,449.86 L319.64,449.86 M314.49,451.85 L318.85,451.85 M313.30,454.13 L319.64,454.13 M316.47,449.00 L316.47,454.70 M314.09,450.71 L314.09,453.56" fill="none" stroke="#666" stroke-width="0.7" />
<path d="M321.23,449.86 L327.56,449.86 M322.41,451.85 L326.77,451.85 M321.23,454.13 L327.56,454.13 M324.39,449.00 L324.39,454.70 M322.02,450.71 L322.02,453.56" fill="none" stroke="#666" stroke-width="0.7" />
<path d="M329.15,449.86 L335.49,449.86 M330.34,451.85 L334.70,451.85 M329.15,454.13 L335.49,454.13 M332.32,449.00 L332.32,454.70 M329.94,450.71 L329.94,453.56" fill="none" stroke="#666" stroke-width="0.7" />
<path d="M337.07,449.86 L343.41,449.86 M338.26,451.85 L342.62,451.85 M337.07,454.13 L343.41,454.13 M340.25,449.00 L340.25,454.70 M337.87,450.71 L337.87,453.56" fill="none" stroke="#666" stroke-width="0.7" />
<rect x="537.80" y="451.20" width="10.60" height="14.50" fill="#fff" stroke="#333" stroke-width="1.1" rx="0" />
<line x1="537.80" y1="451.80" x2="548.40" y2="451.80" stroke="#222" stroke-width="1.4" />
<line x1="539.80" y1="454.20" x2="546.40" y2="462.70" stroke="#777" stroke-width="0.7" />
<line x1="539.80" y1="464.20" x2="546.40" y2="464.20" stroke="#777" stroke-width="0.7" />
<line x1="528.00" y1="451.00" x2="537.80" y2="455.00" stroke="#777" stroke-width="0.6" />
<path d="M497.10,448.96 L503.18,448.96 M498.24,451.20 L502.42,451.20 M497.10,453.76 L503.18,453.76 M500.14,448.00 L500.14,454.40 M497.86,449.92 L497.86,453.12" fill="none" stroke="#666" stroke-width="0.7" />
<path d="M504.70,448.96 L510.78,448.96 M505.84,451.20 L510.02,451.20 M504.70,453.76 L510.78,453.76 M507.74,448.00 L507.74,454.40 M505.46,449.92 L505.46,453.12" fill="none" stroke="#666" stroke-width="0.7" />
<path d="M512.30,448.96 L518.38,448.96 M513.44,451.20 L517.62,451.20 M512.30,453.76 L518.38,453.76 M515.34,448.00 L515.34,454.40 M513.06,449.92 L513.06,453.12" fill="none" stroke="#666" stroke-width="0.7" />
<path d="M519.90,448.96 L525.98,448.96 M521.04,451.20 L525.22,451.20 M519.90,453.76 L525.98,453.76 M522.94,448.00 L522.94,454.40 M520.66,449.92 L520.66,453.12" fill="none" stroke="#666" stroke-width="0.7" />
<rect x="304.30" y="473.80" width="35.30" height="9.00" fill="#fff" stroke="#666" stroke-width="0.8" rx="0" />
<rect x="500.70" y="473.80" width="35.80" height="9.00" fill="#fff" stroke="#666" stroke-width="0.8" rx="0" />
<rect x="339.60" y="472.80" width="161.10" height="10.00" fill="#4a4a4a" stroke="#222" stroke-width="0.9" rx="0" />
<line x1="339.60" y1="475.80" x2="500.70" y2="475.80" stroke="#8a8a8a" stroke-width="0.7" />
<line x1="339.60" y1="479.00" x2="500.70" y2="479.00" stroke="#5a5a5a" stroke-width="0.8" />
<rect x="304.30" y="482.80" width="232.20" height="7.90" fill="#9c9c9c" stroke="#444" stroke-width="0.8" rx="0" />
<line x1="304.30" y1="486.36" x2="536.50" y2="486.36" stroke="#333" stroke-width="0.9" />
<line x1="304.30" y1="488.73" x2="536.50" y2="488.73" stroke="#bbb" stroke-width="0.6" />
<ellipse cx="308.30" cy="491.30" rx="1.8" ry="0.9" fill="none" stroke="#888" stroke-width="0.6"/>
<ellipse cx="334.80" cy="491.30" rx="1.8" ry="0.9" fill="none" stroke="#888" stroke-width="0.6"/>
<ellipse cx="361.30" cy="491.30" rx="1.8" ry="0.9" fill="none" stroke="#888" stroke-width="0.6"/>
<ellipse cx="387.80" cy="491.30" rx="1.8" ry="0.9" fill="none" stroke="#888" stroke-width="0.6"/>
<ellipse cx="414.30" cy="491.30" rx="1.8" ry="0.9" fill="none" stroke="#888" stroke-width="0.6"/>
<ellipse cx="440.80" cy="491.30" rx="1.8" ry="0.9" fill="none" stroke="#888" stroke-width="0.6"/>
<ellipse cx="467.30" cy="491.30" rx="1.8" ry="0.9" fill="none" stroke="#888" stroke-width="0.6"/>
<ellipse cx="493.80" cy="491.30" rx="1.8" ry="0.9" fill="none" stroke="#888" stroke-width="0.6"/>
<ellipse cx="520.30" cy="491.30" rx="1.8" ry="0.9" fill="none" stroke="#888" stroke-width="0.6"/>
<path d="M262.40,501.80 L262.40,471.10 L267.40,464.30 L270.40,464.30 L270.40,473.10 L304.30,473.10 L304.30,501.80 Z" fill="#fff" stroke="#444" stroke-width="1" />
<line x1="265.60" y1="473.10" x2="265.60" y2="500.80" stroke="#888" stroke-width="0.7" />
<path d="M270.40,474.10 L270.40,465.80 Q270.40,464.30 271.90,464.30 L300.80,464.30 Q302.30,464.30 302.30,465.80 L302.30,474.10" fill="#e8e8e8" stroke="#333" stroke-width="0.9" />
<path d="M271.20,473.30 L272.39,465.50 L274.39,473.30 L276.38,465.50 L278.38,473.30 L280.37,465.50 L282.36,473.30 L284.36,465.50 L286.35,473.30 L288.34,465.50 L290.34,473.30 L292.33,465.50 L294.32,473.30 L296.32,465.50 L298.31,473.30 L300.31,465.50 L302.30,473.30" fill="none" stroke="#1e1e1e" stroke-width="1.5" stroke-linejoin="round"/>
<path d="M272.39,466.30 L272.39,473.10 M276.38,466.30 L276.38,473.10 M280.37,466.30 L280.37,473.10 M284.36,466.30 L284.36,473.10 M288.34,466.30 L288.34,473.10 M292.33,466.30 L292.33,473.10 M296.32,466.30 L296.32,473.10 M300.31,466.30 L300.31,473.10 " fill="none" stroke="#555" stroke-width="0.7" />
<circle cx="273.40" cy="486.30" r="6.60" fill="#c8c8c8" stroke="#222" stroke-width="2.3"/>
<circle cx="273.40" cy="486.30" r="3.30" fill="#e8e8e8" stroke="#888" stroke-width="0.6"/>
<path d="M580.00,502.00 L580.00,471.70 L575.00,464.40 L572.00,464.40 L572.00,473.70 L536.50,473.70 L536.50,502.00 Z" fill="#fff" stroke="#444" stroke-width="1" />
<line x1="576.80" y1="473.70" x2="576.80" y2="501.00" stroke="#888" stroke-width="0.7" />
<path d="M537.50,474.70 L537.50,465.90 Q537.50,464.40 539.00,464.40 L570.00,464.40 Q571.50,464.40 571.50,465.90 L571.50,474.70" fill="#e8e8e8" stroke="#333" stroke-width="0.9" />
<path d="M538.30,473.90 L539.62,465.60 L541.75,473.90 L543.88,465.60 L546.00,473.90 L548.12,465.60 L550.25,473.90 L552.38,465.60 L554.50,473.90 L556.62,465.60 L558.75,473.90 L560.88,465.60 L563.00,473.90 L565.12,465.60 L567.25,473.90 L569.38,465.60 L571.50,473.90" fill="none" stroke="#1e1e1e" stroke-width="1.5" stroke-linejoin="round"/>
<path d="M539.62,466.40 L539.62,473.70 M543.88,466.40 L543.88,473.70 M548.12,466.40 L548.12,473.70 M552.38,466.40 L552.38,473.70 M556.62,466.40 L556.62,473.70 M560.88,466.40 L560.88,473.70 M565.12,466.40 L565.12,473.70 M569.38,466.40 L569.38,473.70 " fill="none" stroke="#555" stroke-width="0.7" />
<circle cx="566.40" cy="486.00" r="6.30" fill="#c8c8c8" stroke="#222" stroke-width="2.3"/>
<circle cx="566.40" cy="486.00" r="3.15" fill="#e8e8e8" stroke="#888" stroke-width="0.6"/>
<line x1="422.00" y1="472.00" x2="421.00" y2="468.00" stroke="#777" stroke-width="0.6" />
<path d="M67.60,589.60 L67.60,584.30 Q67.60,582.30 69.60,582.30 L78.80,582.30 Q80.80,582.30 80.80,584.30 L80.80,589.60 Q74.20,587.10 67.60,589.60Z" fill="#fff" stroke="#555" stroke-width="0.9" />
<path d="M67.60,624.60 L67.60,630.60 Q67.60,632.60 69.60,632.60 L78.80,632.60 Q80.80,632.60 80.80,630.60 L80.80,624.60 Q74.20,627.10 67.60,624.60Z" fill="#fff" stroke="#555" stroke-width="0.9" />
<path d="M100.70,624.00 L123.80,624.00 L123.80,645.10 L121.80,647.10 L102.70,647.10 L100.70,645.10 Z" fill="#fff" stroke="#555" stroke-width="0.9" />
<path d="M103.20,626.00 L103.20,642.10 Q112.25,648.10 121.30,642.10 L121.30,626.00" fill="none" stroke="#666" stroke-width="0.8" />
<ellipse cx="111.90" cy="637.20" rx="2.8" ry="3.6" fill="#fff" stroke="#555" stroke-width="0.9"/>
<rect x="101.20" y="624.00" width="22.10" height="3.00" fill="#999" stroke="none" stroke-width="0" rx="0" />
<line x1="103.70" y1="628.00" x2="109.90" y2="635.20" stroke="#888" stroke-width="0.6" />
<line x1="120.80" y1="628.00" x2="113.90" y2="635.20" stroke="#888" stroke-width="0.6" />
<path d="M339.00,624.30 L358.80,624.30 L358.80,644.80 L356.80,646.80 L341.00,646.80 L339.00,644.80 Z" fill="#fff" stroke="#555" stroke-width="0.9" />
<path d="M341.50,626.30 L341.50,641.80 Q348.90,647.80 356.30,641.80 L356.30,626.30" fill="none" stroke="#666" stroke-width="0.8" />
<ellipse cx="349.60" cy="637.50" rx="2.8" ry="3.6" fill="#fff" stroke="#555" stroke-width="0.9"/>
<rect x="339.50" y="624.30" width="18.80" height="3.00" fill="#999" stroke="none" stroke-width="0" rx="0" />
<line x1="342.00" y1="628.30" x2="347.60" y2="635.50" stroke="#888" stroke-width="0.6" />
<line x1="355.80" y1="628.30" x2="351.60" y2="635.50" stroke="#888" stroke-width="0.6" />
<rect x="358.80" y="627.60" width="7.30" height="18.50" fill="#fff" stroke="#555" stroke-width="0.8" rx="0" />
<rect x="360.50" y="630.00" width="3.50" height="12.00" fill="#aaa" stroke="#555" stroke-width="0.6" rx="0" />
<rect x="353.70" y="646.80" width="10.90" height="3.01" fill="#dcdcdc" stroke="#555" stroke-width="0.8" rx="0" />
<rect x="352.90" y="649.81" width="12.50" height="5.59" fill="#fff" stroke="#555" stroke-width="0.8" rx="0" />
<line x1="353.90" y1="647.55" x2="364.40" y2="647.55" stroke="#666" stroke-width="0.5" />
<line x1="353.90" y1="648.30" x2="364.40" y2="648.30" stroke="#666" stroke-width="0.5" />
<line x1="353.90" y1="649.06" x2="364.40" y2="649.06" stroke="#666" stroke-width="0.5" />
<rect x="63.60" y="589.60" width="39.70" height="35.00" fill="#fff" stroke="#555" stroke-width="1" rx="0" />
<line x1="66.80" y1="589.60" x2="66.80" y2="624.30" stroke="#777" stroke-width="0.7" />
<rect x="72.20" y="595.50" width="28.50" height="23.20" fill="#3a3a3a" stroke="#222" stroke-width="0.9" rx="0" />
<line x1="76.27" y1="596.00" x2="76.27" y2="618.20" stroke="#9a9a9a" stroke-width="0.9" />
<line x1="80.34" y1="596.00" x2="80.34" y2="618.20" stroke="#9a9a9a" stroke-width="0.9" />
<line x1="84.41" y1="596.00" x2="84.41" y2="618.20" stroke="#9a9a9a" stroke-width="0.9" />
<line x1="88.49" y1="596.00" x2="88.49" y2="618.20" stroke="#9a9a9a" stroke-width="0.9" />
<line x1="92.56" y1="596.00" x2="92.56" y2="618.20" stroke="#9a9a9a" stroke-width="0.9" />
<line x1="96.63" y1="596.00" x2="96.63" y2="618.20" stroke="#9a9a9a" stroke-width="0.9" />
<path d="M102.10,607.40 L100.86,608.56 L101.18,610.22 L99.50,610.43 L98.78,611.97 L97.30,611.14 L95.82,611.97 L95.10,610.43 L93.42,610.22 L93.74,608.56 L92.50,607.40 L93.74,606.24 L93.42,604.58 L95.10,604.37 L95.82,602.83 L97.30,603.66 L98.78,602.83 L99.50,604.37 L101.18,604.58 L100.86,606.24 Z" fill="#fff" stroke="#444" stroke-width="0.7" />
<circle cx="97.30" cy="607.40" r="2.16" fill="#fff" stroke="#666" stroke-width="0.6"/>
<rect x="62.30" y="602.00" width="9.90" height="10.00" fill="#ccc" stroke="#555" stroke-width="0.8" rx="0" />
<circle cx="62.00" cy="607.00" r="2.20" fill="#fff" stroke="#555" stroke-width="0.8"/>
<rect x="103.30" y="589.60" width="35.10" height="34.70" fill="#fff" stroke="#333" stroke-width="1.2" rx="0" />
<path d="M137.40,593.10 L108.30,593.10 L105.30,596.10 L105.30,617.80 L108.30,620.80 L137.40,620.80" fill="none" stroke="#555" stroke-width="0.9" />
<rect x="103.80" y="590.10" width="34.10" height="3.00" fill="#e4e4e4" stroke="none" stroke-width="0" rx="0" />
<rect x="103.80" y="620.80" width="34.10" height="3.00" fill="#e4e4e4" stroke="none" stroke-width="0" rx="0" />
<circle cx="107.69" cy="591.40" r="1.00" fill="#333" stroke="none" stroke-width="0"/>
<circle cx="107.69" cy="622.50" r="1.00" fill="#333" stroke="none" stroke-width="0"/>
<circle cx="116.46" cy="591.40" r="1.00" fill="#333" stroke="none" stroke-width="0"/>
<circle cx="116.46" cy="622.50" r="1.00" fill="#333" stroke="none" stroke-width="0"/>
<circle cx="125.24" cy="591.40" r="1.00" fill="#333" stroke="none" stroke-width="0"/>
<circle cx="125.24" cy="622.50" r="1.00" fill="#333" stroke="none" stroke-width="0"/>
<circle cx="134.01" cy="591.40" r="1.00" fill="#333" stroke="none" stroke-width="0"/>
<circle cx="134.01" cy="622.50" r="1.00" fill="#333" stroke="none" stroke-width="0"/>
<rect x="114.60" y="603.50" width="15.20" height="7.90" fill="#fff" stroke="#333" stroke-width="1.5" rx="1.2" />
<rect x="138.40" y="589.60" width="156.20" height="34.70" fill="#fff" stroke="#666" stroke-width="0.9" rx="0" />
<rect x="138.40" y="595.40" width="156.20" height="22.40" fill="#5c5c5c" stroke="#222" stroke-width="1.1" rx="0" />
<line x1="138.40" y1="606.60" x2="294.60" y2="606.60" stroke="#b0b0b0" stroke-width="1.1" />
<line x1="138.40" y1="613.54" x2="294.60" y2="613.54" stroke="#a8a8a8" stroke-width="1.1" />
<line x1="138.40" y1="601.00" x2="294.60" y2="601.00" stroke="#4a4a4a" stroke-width="1.4" />
<line x1="138.40" y1="616.46" x2="294.60" y2="616.46" stroke="#333" stroke-width="1.0" />
<line x1="144.40" y1="589.60" x2="144.40" y2="591.60" stroke="#777" stroke-width="0.7" />
<line x1="144.40" y1="622.30" x2="144.40" y2="624.30" stroke="#777" stroke-width="0.7" />
<line x1="170.40" y1="589.60" x2="170.40" y2="591.60" stroke="#777" stroke-width="0.7" />
<line x1="170.40" y1="622.30" x2="170.40" y2="624.30" stroke="#777" stroke-width="0.7" />
<line x1="196.40" y1="589.60" x2="196.40" y2="591.60" stroke="#777" stroke-width="0.7" />
<line x1="196.40" y1="622.30" x2="196.40" y2="624.30" stroke="#777" stroke-width="0.7" />
<line x1="222.40" y1="589.60" x2="222.40" y2="591.60" stroke="#777" stroke-width="0.7" />
<line x1="222.40" y1="622.30" x2="222.40" y2="624.30" stroke="#777" stroke-width="0.7" />
<line x1="248.40" y1="589.60" x2="248.40" y2="591.60" stroke="#777" stroke-width="0.7" />
<line x1="248.40" y1="622.30" x2="248.40" y2="624.30" stroke="#777" stroke-width="0.7" />
<line x1="274.40" y1="589.60" x2="274.40" y2="591.60" stroke="#777" stroke-width="0.7" />
<line x1="274.40" y1="622.30" x2="274.40" y2="624.30" stroke="#777" stroke-width="0.7" />
<rect x="294.60" y="589.60" width="35.10" height="34.70" fill="#fff" stroke="#333" stroke-width="1.2" rx="0" />
<path d="M295.60,593.10 L324.70,593.10 L327.70,596.10 L327.70,617.80 L324.70,620.80 L295.60,620.80" fill="none" stroke="#555" stroke-width="0.9" />
<rect x="295.10" y="590.10" width="34.10" height="3.00" fill="#e4e4e4" stroke="none" stroke-width="0" rx="0" />
<rect x="295.10" y="620.80" width="34.10" height="3.00" fill="#e4e4e4" stroke="none" stroke-width="0" rx="0" />
<circle cx="298.99" cy="591.40" r="1.00" fill="#333" stroke="none" stroke-width="0"/>
<circle cx="298.99" cy="622.50" r="1.00" fill="#333" stroke="none" stroke-width="0"/>
<circle cx="307.76" cy="591.40" r="1.00" fill="#333" stroke="none" stroke-width="0"/>
<circle cx="307.76" cy="622.50" r="1.00" fill="#333" stroke="none" stroke-width="0"/>
<circle cx="316.54" cy="591.40" r="1.00" fill="#333" stroke="none" stroke-width="0"/>
<circle cx="316.54" cy="622.50" r="1.00" fill="#333" stroke="none" stroke-width="0"/>
<circle cx="325.31" cy="591.40" r="1.00" fill="#333" stroke="none" stroke-width="0"/>
<circle cx="325.31" cy="622.50" r="1.00" fill="#333" stroke="none" stroke-width="0"/>
<rect x="303.20" y="603.80" width="15.30" height="6.60" fill="#fff" stroke="#333" stroke-width="1.5" rx="1.2" />
<rect x="329.70" y="589.20" width="39.70" height="35.10" fill="#fff" stroke="#555" stroke-width="1" rx="0" />
<rect x="332.40" y="595.80" width="27.70" height="22.50" fill="#3a3a3a" stroke="#222" stroke-width="0.9" rx="0" />
<line x1="336.36" y1="596.30" x2="336.36" y2="617.80" stroke="#9a9a9a" stroke-width="0.9" />
<line x1="340.31" y1="596.30" x2="340.31" y2="617.80" stroke="#9a9a9a" stroke-width="0.9" />
<line x1="344.27" y1="596.30" x2="344.27" y2="617.80" stroke="#9a9a9a" stroke-width="0.9" />
<line x1="348.23" y1="596.30" x2="348.23" y2="617.80" stroke="#9a9a9a" stroke-width="0.9" />
<line x1="352.19" y1="596.30" x2="352.19" y2="617.80" stroke="#9a9a9a" stroke-width="0.9" />
<line x1="356.14" y1="596.30" x2="356.14" y2="617.80" stroke="#9a9a9a" stroke-width="0.9" />
<path d="M340.10,607.70 L338.96,608.76 L339.26,610.29 L337.72,610.48 L337.06,611.88 L335.70,611.13 L334.34,611.88 L333.68,610.48 L332.14,610.29 L332.44,608.76 L331.30,607.70 L332.44,606.64 L332.14,605.11 L333.68,604.92 L334.34,603.52 L335.70,604.27 L337.06,603.52 L337.72,604.92 L339.26,605.11 L338.96,606.64 Z" fill="#fff" stroke="#444" stroke-width="0.7" />
<circle cx="335.70" cy="607.70" r="1.98" fill="#fff" stroke="#666" stroke-width="0.6"/>
<circle cx="345.00" cy="607.70" r="2.50" fill="#fff" stroke="#555" stroke-width="0.8"/>
<rect x="358.80" y="603.80" width="5.35" height="7.90" fill="#ccc" stroke="#555" stroke-width="0.8" rx="0" />
<rect x="364.15" y="604.99" width="6.54" height="5.53" fill="#fff" stroke="#555" stroke-width="0.8" rx="0" />
<circle cx="370.70" cy="607.75" r="2.37" fill="#fff" stroke="#555" stroke-width="0.8"/>
<rect x="353.00" y="578.00" width="11.60" height="4.16" fill="#dcdcdc" stroke="#555" stroke-width="0.8" rx="0" />
<rect x="352.20" y="582.16" width="13.20" height="7.73" fill="#fff" stroke="#555" stroke-width="0.8" rx="0" />
<line x1="353.20" y1="579.04" x2="364.40" y2="579.04" stroke="#666" stroke-width="0.5" />
<line x1="353.20" y1="580.08" x2="364.40" y2="580.08" stroke="#666" stroke-width="0.5" />
<line x1="353.20" y1="581.12" x2="364.40" y2="581.12" stroke="#666" stroke-width="0.5" />
<defs><pattern id="ihatch" width="2" height="2" patternUnits="userSpaceOnUse" patternTransform="rotate(45)"><rect width="2" height="2" fill="#ccc"/><line x1="0" y1="0" x2="0" y2="2" stroke="#777" stroke-width="0.8"/></pattern></defs>
<rect x="390.50" y="633.00" width="4.10" height="24.20" fill="url(#ihatch)" stroke="#666" stroke-width="0.8" rx="0" />
<rect x="394.60" y="644.20" width="19.40" height="2.00" fill="url(#ihatch)" stroke="#666" stroke-width="0.6" rx="0" />
<rect x="414.00" y="624.90" width="19.40" height="21.00" fill="#fff" stroke="#555" stroke-width="0.9" rx="0" />
<rect x="407.50" y="635.40" width="6.50" height="5.00" fill="#fff" stroke="#555" stroke-width="0.7" rx="0" />
<rect x="433.40" y="635.40" width="6.50" height="5.00" fill="#fff" stroke="#555" stroke-width="0.7" rx="0" />
<rect x="419.50" y="634.00" width="4.00" height="12.00" fill="#666" stroke="#444" stroke-width="0.6" rx="0" />
<rect x="423.00" y="646.00" width="3.00" height="8.00" fill="#aaa" stroke="#555" stroke-width="0.6" rx="0" />
<path d="M418.8,624.9 L418.8,603 Q418.8,599.8 422,599.8 L441.5,599.8 L441.5,613.5 L431.8,613.5 L431.8,624.9 Z" fill="#fff" stroke="#555" stroke-width="0.9" />
<circle cx="425.30" cy="607.90" r="3.00" fill="#fff" stroke="#555" stroke-width="0.9"/>
<rect x="459.30" y="578.80" width="12.10" height="9.70" fill="#fff" stroke="#555" stroke-width="0.8" rx="0" />
<rect x="460.30" y="578.80" width="10.10" height="4.37" fill="#ddd" stroke="#555" stroke-width="0.7" rx="0" />
<line x1="462.32" y1="578.80" x2="462.32" y2="583.16" stroke="#777" stroke-width="0.5" />
<line x1="465.35" y1="578.80" x2="465.35" y2="583.16" stroke="#777" stroke-width="0.5" />
<line x1="468.38" y1="578.80" x2="468.38" y2="583.16" stroke="#777" stroke-width="0.5" />
<rect x="459.80" y="625.70" width="11.90" height="7.27" fill="#fff" stroke="#555" stroke-width="0.8" rx="0" />
<rect x="459.30" y="632.98" width="12.90" height="7.27" fill="#cfcfcf" stroke="#555" stroke-width="0.8" rx="0" />
<rect x="459.80" y="640.25" width="11.90" height="5.82" fill="#fff" stroke="#555" stroke-width="0.8" rx="0" />
<rect x="459.30" y="646.07" width="12.90" height="8.73" fill="#cfcfcf" stroke="#555" stroke-width="0.8" rx="0" />
<line x1="462.52" y1="632.98" x2="462.52" y2="640.25" stroke="#777" stroke-width="0.5" />
<line x1="465.75" y1="632.98" x2="465.75" y2="640.25" stroke="#777" stroke-width="0.5" />
<line x1="468.98" y1="632.98" x2="468.98" y2="640.25" stroke="#777" stroke-width="0.5" />
<line x1="462.52" y1="646.07" x2="462.52" y2="654.80" stroke="#777" stroke-width="0.5" />
<line x1="465.75" y1="646.07" x2="465.75" y2="654.80" stroke="#777" stroke-width="0.5" />
<line x1="468.98" y1="646.07" x2="468.98" y2="654.80" stroke="#777" stroke-width="0.5" />
<path d="M452.40,595.00 L443.50,595.00 Q441.50,595.00 441.50,598.00 L441.50,615.40 Q441.50,618.40 443.50,618.40 L452.40,618.40" fill="#fff" stroke="#555" stroke-width="0.9" />
<line x1="441.50" y1="602.02" x2="450.40" y2="602.02" stroke="#666" stroke-width="0.7" />
<line x1="441.50" y1="606.70" x2="450.40" y2="606.70" stroke="#666" stroke-width="0.7" />
<line x1="441.50" y1="611.38" x2="450.40" y2="611.38" stroke="#666" stroke-width="0.7" />
<rect x="443.00" y="602.72" width="7.90" height="3.28" fill="#aaa" stroke="none" stroke-width="0" rx="0" />
<rect x="443.00" y="607.40" width="7.90" height="3.28" fill="#aaa" stroke="none" stroke-width="0" rx="0" />
<circle cx="466.20" cy="607.10" r="15.70" fill="#fff" stroke="#2a2a2a" stroke-width="2.0"/>
<circle cx="466.20" cy="607.10" r="13.00" fill="none" stroke="#a8a8a8" stroke-width="2.2"/>
<circle cx="466.20" cy="607.10" r="11.20" fill="#fff" stroke="#444" stroke-width="0.8"/>
<circle cx="466.20" cy="593.80" r="1.30" fill="#fff" stroke="#333" stroke-width="0.7"/>
<circle cx="466.20" cy="620.40" r="1.30" fill="#fff" stroke="#333" stroke-width="0.7"/>
<circle cx="479.50" cy="607.10" r="1.30" fill="#fff" stroke="#333" stroke-width="0.7"/>
<path d="M425,652 Q428,662 433,663" fill="none" stroke="#777" stroke-width="0.6" />
<path d="M433.70,662.17 L437.59,662.17 M434.43,663.75 L437.11,663.75 M433.70,665.55 L437.59,665.55 M435.65,661.50 L435.65,666.00 M434.19,662.85 L434.19,665.10" fill="none" stroke="#666" stroke-width="0.7" />
<path d="M438.57,662.17 L442.46,662.17 M439.30,663.75 L441.97,663.75 M438.57,665.55 L442.46,665.55 M440.51,661.50 L440.51,666.00 M439.05,662.85 L439.05,665.10" fill="none" stroke="#666" stroke-width="0.7" />
<path d="M443.43,662.17 L447.33,662.17 M444.16,663.75 L446.84,663.75 M443.43,665.55 L447.33,665.55 M445.38,661.50 L445.38,666.00 M443.92,662.85 L443.92,665.10" fill="none" stroke="#666" stroke-width="0.7" />
<rect x="108.64" y="676.80" width="6.91" height="6.54" fill="#fff" stroke="#555" stroke-width="0.8" rx="0" />
<rect x="108.64" y="679.21" width="6.91" height="2.06" fill="#666" stroke="none" stroke-width="0" rx="0" />
<path d="M105.62,683.34 L118.58,683.34 L122.90,691.85 L121.17,702.26 L103.03,702.26 L101.30,691.85 Z" fill="#f4f4f4" stroke="#222" stroke-width="1.4" />
<path d="M106.70,685.34 L117.50,700.26 M117.50,685.34 L106.70,700.26" fill="none" stroke="#666" stroke-width="0.9" />
<path d="M103.89,686.34 L102.60,699.26 M120.31,686.34 L121.60,699.26" fill="none" stroke="#222" stroke-width="1.8" />
<rect x="108.64" y="702.26" width="6.91" height="8.94" fill="#fff" stroke="#555" stroke-width="0.8" rx="0" />
<rect x="108.64" y="704.94" width="6.91" height="2.24" fill="#777" stroke="none" stroke-width="0" rx="0" />
<line x1="103.40" y1="702.50" x2="103.40" y2="712.30" stroke="#666" stroke-width="0.7" />
<line x1="122.90" y1="684.00" x2="125.00" y2="682.00" stroke="#777" stroke-width="0.6" />
<path d="M125.30,681.16 L129.00,681.16 M125.99,682.95 L128.54,682.95 M125.30,684.99 L129.00,684.99 M127.15,680.40 L127.15,685.50 M125.76,681.93 L125.76,684.48" fill="none" stroke="#666" stroke-width="0.7" />
<path d="M129.93,681.16 L133.62,681.16 M130.62,682.95 L133.16,682.95 M129.93,684.99 L133.62,684.99 M131.78,680.40 L131.78,685.50 M130.39,681.93 L130.39,684.48" fill="none" stroke="#666" stroke-width="0.7" />
<path d="M134.55,681.16 L138.25,681.16 M135.24,682.95 L137.79,682.95 M134.55,684.99 L138.25,684.99 M136.40,680.40 L136.40,685.50 M135.01,681.93 L135.01,684.48" fill="none" stroke="#666" stroke-width="0.7" />
<path d="M139.18,681.16 L142.88,681.16 M139.87,682.95 L142.41,682.95 M139.18,684.99 L142.88,684.99 M141.03,680.40 L141.03,685.50 M139.64,681.93 L139.64,684.48" fill="none" stroke="#666" stroke-width="0.7" />
<rect x="345.98" y="676.25" width="6.80" height="6.65" fill="#fff" stroke="#555" stroke-width="0.8" rx="0" />
<rect x="345.98" y="678.70" width="6.80" height="2.10" fill="#666" stroke="none" stroke-width="0" rx="0" />
<path d="M343.00,682.90 L355.75,682.90 L360.00,691.56 L358.30,702.15 L340.45,702.15 L338.75,691.56 Z" fill="#f4f4f4" stroke="#222" stroke-width="1.4" />
<path d="M344.06,684.90 L354.69,700.15 M354.69,684.90 L344.06,700.15" fill="none" stroke="#666" stroke-width="0.9" />
<path d="M341.30,685.90 L340.02,699.15 M357.45,685.90 L358.73,699.15" fill="none" stroke="#222" stroke-width="1.8" />
<rect x="345.98" y="702.15" width="6.80" height="9.10" fill="#fff" stroke="#555" stroke-width="0.8" rx="0" />
<rect x="345.98" y="704.88" width="6.80" height="2.28" fill="#777" stroke="none" stroke-width="0" rx="0" />
<line x1="360.00" y1="684.00" x2="366.00" y2="681.00" stroke="#777" stroke-width="0.6" />
<path d="M366.55,679.26 L370.30,679.26 M367.25,681.05 L369.83,681.05 M366.55,683.09 L370.30,683.09 M368.43,678.50 L368.43,683.60 M367.02,680.03 L367.02,682.58" fill="none" stroke="#666" stroke-width="0.7" />
<path d="M371.24,679.26 L374.99,679.26 M371.94,681.05 L374.52,681.05 M371.24,683.09 L374.99,683.09 M373.11,678.50 L373.11,683.60 M371.71,680.03 L371.71,682.58" fill="none" stroke="#666" stroke-width="0.7" />
<path d="M375.93,679.26 L379.68,679.26 M376.63,681.05 L379.21,681.05 M375.93,683.09 L379.68,683.09 M377.80,678.50 L377.80,683.60 M376.39,680.03 L376.39,682.58" fill="none" stroke="#666" stroke-width="0.7" />
<path d="M380.61,679.26 L384.36,679.26 M381.32,681.05 L383.89,681.05 M380.61,683.09 L384.36,683.09 M382.49,678.50 L382.49,683.60 M381.08,680.03 L381.08,682.58" fill="none" stroke="#666" stroke-width="0.7" />
<rect x="103.75" y="723.00" width="33.75" height="10.75" fill="#fff" stroke="#666" stroke-width="0.8" rx="0" />
<rect x="295.00" y="723.00" width="33.75" height="10.75" fill="#fff" stroke="#666" stroke-width="0.8" rx="0" />
<rect x="137.50" y="722.00" width="157.50" height="11.75" fill="#4a4a4a" stroke="#222" stroke-width="0.9" rx="0" />
<line x1="137.50" y1="725.52" x2="295.00" y2="725.52" stroke="#8a8a8a" stroke-width="0.7" />
<line x1="137.50" y1="729.28" x2="295.00" y2="729.28" stroke="#5a5a5a" stroke-width="0.8" />
<rect x="103.75" y="733.75" width="225.00" height="8.75" fill="#9c9c9c" stroke="#444" stroke-width="0.8" rx="0" />
<line x1="103.75" y1="737.69" x2="328.75" y2="737.69" stroke="#333" stroke-width="0.9" />
<line x1="103.75" y1="740.31" x2="328.75" y2="740.31" stroke="#bbb" stroke-width="0.6" />
<ellipse cx="107.75" cy="743.10" rx="1.8" ry="0.9" fill="none" stroke="#888" stroke-width="0.6"/>
<ellipse cx="134.25" cy="743.10" rx="1.8" ry="0.9" fill="none" stroke="#888" stroke-width="0.6"/>
<ellipse cx="160.75" cy="743.10" rx="1.8" ry="0.9" fill="none" stroke="#888" stroke-width="0.6"/>
<ellipse cx="187.25" cy="743.10" rx="1.8" ry="0.9" fill="none" stroke="#888" stroke-width="0.6"/>
<ellipse cx="213.75" cy="743.10" rx="1.8" ry="0.9" fill="none" stroke="#888" stroke-width="0.6"/>
<ellipse cx="240.25" cy="743.10" rx="1.8" ry="0.9" fill="none" stroke="#888" stroke-width="0.6"/>
<ellipse cx="266.75" cy="743.10" rx="1.8" ry="0.9" fill="none" stroke="#888" stroke-width="0.6"/>
<ellipse cx="293.25" cy="743.10" rx="1.8" ry="0.9" fill="none" stroke="#888" stroke-width="0.6"/>
<ellipse cx="319.75" cy="743.10" rx="1.8" ry="0.9" fill="none" stroke="#888" stroke-width="0.6"/>
<path d="M62.50,755.00 L62.50,718.00 L67.50,712.50 L70.50,712.50 L70.50,720.00 L103.75,720.00 L103.75,755.00 Z" fill="#fff" stroke="#444" stroke-width="1" />
<line x1="65.70" y1="720.00" x2="65.70" y2="754.00" stroke="#888" stroke-width="0.7" />
<path d="M70.50,721.00 L70.50,714.00 Q70.50,712.50 72.00,712.50 L100.25,712.50 Q101.75,712.50 101.75,714.00 L101.75,721.00" fill="#e8e8e8" stroke="#333" stroke-width="0.9" />
<path d="M71.30,720.20 L72.45,713.70 L74.41,720.20 L76.36,713.70 L78.31,720.20 L80.27,713.70 L82.22,720.20 L84.17,713.70 L86.12,720.20 L88.08,713.70 L90.03,720.20 L91.98,713.70 L93.94,720.20 L95.89,713.70 L97.84,720.20 L99.80,713.70 L101.75,720.20" fill="none" stroke="#1e1e1e" stroke-width="1.5" stroke-linejoin="round"/>
<path d="M72.45,714.50 L72.45,720.00 M76.36,714.50 L76.36,720.00 M80.27,714.50 L80.27,720.00 M84.17,714.50 L84.17,720.00 M88.08,714.50 L88.08,720.00 M91.98,714.50 L91.98,720.00 M95.89,714.50 L95.89,720.00 M99.80,714.50 L99.80,720.00 " fill="none" stroke="#555" stroke-width="0.7" />
<circle cx="73.75" cy="737.50" r="7.00" fill="#c8c8c8" stroke="#222" stroke-width="2.3"/>
<circle cx="73.75" cy="737.50" r="3.50" fill="#e8e8e8" stroke="#888" stroke-width="0.6"/>
<path d="M368.75,755.00 L368.75,718.00 L363.75,711.25 L360.75,711.25 L360.75,720.00 L328.75,720.00 L328.75,755.00 Z" fill="#fff" stroke="#444" stroke-width="1" />
<line x1="365.55" y1="720.00" x2="365.55" y2="754.00" stroke="#888" stroke-width="0.7" />
<path d="M329.75,721.00 L329.75,712.75 Q329.75,711.25 331.25,711.25 L358.75,711.25 Q360.25,711.25 360.25,712.75 L360.25,721.00" fill="#e8e8e8" stroke="#333" stroke-width="0.9" />
<path d="M330.55,720.20 L331.66,712.45 L333.56,720.20 L335.47,712.45 L337.38,720.20 L339.28,712.45 L341.19,720.20 L343.09,712.45 L345.00,720.20 L346.91,712.45 L348.81,720.20 L350.72,712.45 L352.62,720.20 L354.53,712.45 L356.44,720.20 L358.34,712.45 L360.25,720.20" fill="none" stroke="#1e1e1e" stroke-width="1.5" stroke-linejoin="round"/>
<path d="M331.66,713.25 L331.66,720.00 M335.47,713.25 L335.47,720.00 M339.28,713.25 L339.28,720.00 M343.09,713.25 L343.09,720.00 M346.91,713.25 L346.91,720.00 M350.72,713.25 L350.72,720.00 M354.53,713.25 L354.53,720.00 M358.34,713.25 L358.34,720.00 " fill="none" stroke="#555" stroke-width="0.7" />
<circle cx="358.75" cy="737.50" r="6.60" fill="#c8c8c8" stroke="#222" stroke-width="2.3"/>
<circle cx="358.75" cy="737.50" r="3.30" fill="#e8e8e8" stroke="#888" stroke-width="0.6"/>
<line x1="216.00" y1="721.00" x2="215.00" y2="716.00" stroke="#777" stroke-width="0.6" />
<defs><pattern id="shatch" width="1.6" height="1.6" patternUnits="userSpaceOnUse"><rect width="1.6" height="1.6" fill="#e0e0e0"/><line x1="0" y1="0.4" x2="1.6" y2="0.4" stroke="#999" stroke-width="0.6"/></pattern></defs>
<rect x="205.30" y="878.40" width="286.00" height="2.20" fill="#d8d8d8" stroke="#999" stroke-width="0.6" rx="0" />
<line x1="205.30" y1="884.60" x2="491.20" y2="884.60" stroke="#8a8a8a" stroke-width="0.8" />
<line x1="205.30" y1="890.10" x2="491.20" y2="890.10" stroke="#8a8a8a" stroke-width="0.8" />
<rect x="250.70" y="897.50" width="195.60" height="6.80" fill="#e2e2e2" stroke="#999" stroke-width="0.8" rx="1.5" />
<line x1="205.30" y1="898.50" x2="250.70" y2="898.50" stroke="#aaa" stroke-width="0.6" />
<line x1="446.30" y1="898.50" x2="491.20" y2="898.50" stroke="#aaa" stroke-width="0.6" />
<rect x="238.10" y="884.80" width="1.80" height="3.80" fill="#222" stroke="none" stroke-width="0" rx="0" />
<rect x="275.60" y="884.80" width="1.80" height="3.80" fill="#222" stroke="none" stroke-width="0" rx="0" />
<rect x="312.10" y="884.80" width="1.80" height="3.80" fill="#222" stroke="none" stroke-width="0" rx="0" />
<rect x="347.85" y="884.80" width="1.80" height="3.80" fill="#222" stroke="none" stroke-width="0" rx="0" />
<rect x="383.60" y="884.80" width="1.80" height="3.80" fill="#222" stroke="none" stroke-width="0" rx="0" />
<rect x="419.60" y="884.80" width="1.80" height="3.80" fill="#222" stroke="none" stroke-width="0" rx="0" />
<rect x="456.70" y="884.80" width="1.80" height="3.80" fill="#222" stroke="none" stroke-width="0" rx="0" />
<rect x="220.30" y="888.70" width="2.00" height="7.50" fill="#222" stroke="none" stroke-width="0" rx="0" />
<rect x="230.60" y="888.70" width="2.00" height="7.50" fill="#222" stroke="none" stroke-width="0" rx="0" />
<rect x="464.60" y="888.70" width="2.00" height="7.50" fill="#222" stroke="none" stroke-width="0" rx="0" />
<rect x="475.20" y="888.70" width="2.00" height="7.50" fill="#222" stroke="none" stroke-width="0" rx="0" />
<rect x="216.00" y="887.00" width="4.00" height="10.00" fill="none" stroke="#bbb" stroke-width="0.6" rx="0" />
<rect x="226.00" y="887.00" width="4.00" height="10.00" fill="none" stroke="#bbb" stroke-width="0.6" rx="0" />
<rect x="235.00" y="887.00" width="4.00" height="10.00" fill="none" stroke="#bbb" stroke-width="0.6" rx="0" />
<rect x="244.00" y="887.00" width="4.00" height="10.00" fill="none" stroke="#bbb" stroke-width="0.6" rx="0" />
<rect x="452.00" y="887.00" width="4.00" height="10.00" fill="none" stroke="#bbb" stroke-width="0.6" rx="0" />
<rect x="461.00" y="887.00" width="4.00" height="10.00" fill="none" stroke="#bbb" stroke-width="0.6" rx="0" />
<rect x="470.00" y="887.00" width="4.00" height="10.00" fill="none" stroke="#bbb" stroke-width="0.6" rx="0" />
<rect x="480.00" y="887.00" width="4.00" height="10.00" fill="none" stroke="#bbb" stroke-width="0.6" rx="0" />
<rect x="204.40" y="891.60" width="9.60" height="6.00" fill="url(#shatch)" stroke="#999" stroke-width="0.6" rx="0" />
<rect x="483.20" y="889.70" width="8.80" height="8.80" fill="url(#shatch)" stroke="#999" stroke-width="0.6" rx="0" />
<rect x="155.90" y="865.00" width="19.40" height="40.60" fill="#fff" stroke="#8a8a8a" stroke-width="1" rx="0" />
<line x1="158.50" y1="867.00" x2="158.50" y2="905.00" stroke="#aaa" stroke-width="0.6" />
<rect x="175.30" y="864.40" width="30.00" height="41.20" fill="#fff" stroke="#8a8a8a" stroke-width="1" rx="0" />
<line x1="175.30" y1="867.40" x2="205.30" y2="867.40" stroke="#aaa" stroke-width="0.7" />
<path d="M154.7,905.6 L154.7,909 Q156,915 162,915 L204.1,915 L204.1,905.6" fill="#fff" stroke="#8a8a8a" stroke-width="0.9" />
<path d="M163,906 L163,913" fill="none" stroke="#999" stroke-width="0.8" />
<path d="M170,906 L170,913" fill="none" stroke="#999" stroke-width="0.8" />
<path d="M177,906 L177,913" fill="none" stroke="#999" stroke-width="0.8" />
<path d="M184,906 L184,913" fill="none" stroke="#999" stroke-width="0.8" />
<path d="M191,906 L191,913" fill="none" stroke="#999" stroke-width="0.8" />
<path d="M198,906 L198,913" fill="none" stroke="#999" stroke-width="0.8" />
<rect x="160.00" y="908.00" width="6.00" height="6.00" fill="#bbb" stroke="none" stroke-width="0" rx="0" />
<rect x="191.80" y="915.00" width="12.90" height="17.60" fill="#fff" stroke="#8a8a8a" stroke-width="0.9" rx="0" />
<rect x="194.00" y="915.00" width="8.00" height="5.00" fill="#999" stroke="none" stroke-width="0" rx="0" />
<rect x="491.20" y="865.00" width="51.10" height="38.80" fill="#fff" stroke="#8a8a8a" stroke-width="1" rx="0" />
<line x1="538.00" y1="867.00" x2="538.00" y2="902.00" stroke="#999" stroke-width="0.8" />
<line x1="512.30" y1="870.50" x2="512.30" y2="901.00" stroke="#888" stroke-width="0.8" />
<rect x="511.50" y="869.50" width="6.00" height="1.80" fill="#222" stroke="none" stroke-width="0" rx="0.9" />
<rect x="511.50" y="900.30" width="6.00" height="1.80" fill="#222" stroke="none" stroke-width="0" rx="0.9" />
<rect x="517.60" y="876.50" width="14.20" height="4.40" fill="#888" stroke="#555" stroke-width="0.6" rx="0" />
<rect x="523.00" y="873.00" width="3.00" height="11.00" fill="#aaa" stroke="#555" stroke-width="0.5" rx="0" />
<rect x="518.50" y="884.40" width="8.00" height="18.60" fill="url(#shatch)" stroke="#888" stroke-width="0.6" rx="0" />
<rect x="506.20" y="873.00" width="6.10" height="8.80" fill="none" stroke="#999" stroke-width="0.6" rx="0" />
<rect x="503.50" y="889.70" width="8.80" height="8.80" fill="none" stroke="#999" stroke-width="0.6" rx="0" />
<rect x="527.00" y="888.00" width="5.00" height="4.00" fill="none" stroke="#aaa" stroke-width="0.6" rx="0" />
<circle cx="496.50" cy="876.50" r="1.60" fill="none" stroke="#888" stroke-width="0.6"/>
<path d="M493,903.8 L493,915.3 L537,915.3 L542.3,910 L542.3,903.8" fill="#fff" stroke="#8a8a8a" stroke-width="0.9" />
<path d="M500,905 L500,913" fill="none" stroke="#999" stroke-width="0.8" />
<path d="M507,905 L507,913" fill="none" stroke="#999" stroke-width="0.8" />
<path d="M514,905 L514,913" fill="none" stroke="#999" stroke-width="0.8" />
<path d="M521,905 L521,913" fill="none" stroke="#999" stroke-width="0.8" />
<path d="M528,905 L528,913" fill="none" stroke="#999" stroke-width="0.8" />
<path d="M534,905 L534,913" fill="none" stroke="#999" stroke-width="0.8" />
<rect x="533.00" y="906.00" width="6.00" height="7.00" fill="#bbb" stroke="none" stroke-width="0" rx="0" />
<rect x="492.00" y="915.30" width="13.30" height="16.70" fill="#fff" stroke="#8a8a8a" stroke-width="0.9" rx="0" />
<rect x="494.00" y="915.30" width="9.00" height="5.00" fill="#999" stroke="none" stroke-width="0" rx="0" />
<path d="M164.30,860.70 L166.70,860.70 M164.75,861.65 L166.40,861.65 M164.30,862.73 L166.70,862.73 M165.50,860.30 L165.50,863.00 M164.60,861.11 L164.60,862.46" fill="none" stroke="#666" stroke-width="0.7" />
<path d="M167.30,860.70 L169.70,860.70 M167.75,861.65 L169.40,861.65 M167.30,862.73 L169.70,862.73 M168.50,860.30 L168.50,863.00 M167.60,861.11 L167.60,862.46" fill="none" stroke="#666" stroke-width="0.7" />
<path d="M170.30,860.70 L172.70,860.70 M170.75,861.65 L172.40,861.65 M170.30,862.73 L172.70,862.73 M171.50,860.30 L171.50,863.00 M170.60,861.11 L170.60,862.46" fill="none" stroke="#666" stroke-width="0.7" />
<path d="M215.00,873.42 L217.48,873.42 M215.47,874.40 L217.17,874.40 M215.00,875.52 L217.48,875.52 M216.24,873.00 L216.24,875.80 M215.31,873.84 L215.31,875.24" fill="none" stroke="#666" stroke-width="0.7" />
<path d="M218.10,873.42 L220.58,873.42 M218.56,874.40 L220.27,874.40 M218.10,875.52 L220.58,875.52 M219.34,873.00 L219.34,875.80 M218.41,873.84 L218.41,875.24" fill="none" stroke="#666" stroke-width="0.7" />
<path d="M221.20,873.42 L223.68,873.42 M221.67,874.40 L223.37,874.40 M221.20,875.52 L223.68,875.52 M222.44,873.00 L222.44,875.80 M221.51,873.84 L221.51,875.24" fill="none" stroke="#666" stroke-width="0.7" />
<path d="M256.90,874.36 L259.46,874.36 M257.38,875.20 L259.14,875.20 M256.90,876.16 L259.46,876.16 M258.18,874.00 L258.18,876.40 M257.22,874.72 L257.22,875.92" fill="none" stroke="#666" stroke-width="0.7" />
<path d="M260.10,874.36 L262.66,874.36 M260.58,875.20 L262.34,875.20 M260.10,876.16 L262.66,876.16 M261.38,874.00 L261.38,876.40 M260.42,874.72 L260.42,875.92" fill="none" stroke="#666" stroke-width="0.7" />
<path d="M263.30,874.36 L265.86,874.36 M263.78,875.20 L265.54,875.20 M263.30,876.16 L265.86,876.16 M264.58,874.00 L264.58,876.40 M263.62,874.72 L263.62,875.92" fill="none" stroke="#666" stroke-width="0.7" />
<path d="M431.30,874.19 L433.97,874.19 M431.80,875.10 L433.63,875.10 M431.30,876.14 L433.97,876.14 M432.63,873.80 L432.63,876.40 M431.63,874.58 L431.63,875.88" fill="none" stroke="#666" stroke-width="0.7" />
<path d="M434.63,874.19 L437.30,874.19 M435.13,875.10 L436.97,875.10 M434.63,876.14 L437.30,876.14 M435.97,873.80 L435.97,876.40 M434.97,874.58 L434.97,875.88" fill="none" stroke="#666" stroke-width="0.7" />
<path d="M437.97,874.19 L440.63,874.19 M438.47,875.10 L440.30,875.10 M437.97,876.14 L440.63,876.14 M439.30,873.80 L439.30,876.40 M438.30,874.58 L438.30,875.88" fill="none" stroke="#666" stroke-width="0.7" />
<path d="M453.30,871.42 L455.70,871.42 M453.75,872.40 L455.40,872.40 M453.30,873.52 L455.70,873.52 M454.50,871.00 L454.50,873.80 M453.60,871.84 L453.60,873.24" fill="none" stroke="#666" stroke-width="0.7" />
<path d="M456.30,871.42 L458.70,871.42 M456.75,872.40 L458.40,872.40 M456.30,873.52 L458.70,873.52 M457.50,871.00 L457.50,873.80 M456.60,871.84 L456.60,873.24" fill="none" stroke="#666" stroke-width="0.7" />
<path d="M459.30,871.42 L461.70,871.42 M459.75,872.40 L461.40,872.40 M459.30,873.52 L461.70,873.52 M460.50,871.00 L460.50,873.80 M459.60,871.84 L459.60,873.24" fill="none" stroke="#666" stroke-width="0.7" />
<path d="M522.30,859.22 L524.70,859.22 M522.75,860.20 L524.40,860.20 M522.30,861.32 L524.70,861.32 M523.50,858.80 L523.50,861.60 M522.60,859.64 L522.60,861.04" fill="none" stroke="#666" stroke-width="0.7" />
<path d="M525.30,859.22 L527.70,859.22 M525.75,860.20 L527.40,860.20 M525.30,861.32 L527.70,861.32 M526.50,858.80 L526.50,861.60 M525.60,859.64 L525.60,861.04" fill="none" stroke="#666" stroke-width="0.7" />
<path d="M528.30,859.22 L530.70,859.22 M528.75,860.20 L530.40,860.20 M528.30,861.32 L530.70,861.32 M529.50,858.80 L529.50,861.60 M528.60,859.64 L528.60,861.04" fill="none" stroke="#666" stroke-width="0.7" />
<circle cx="158.80" cy="866.20" r="0.90" fill="#444" stroke="none" stroke-width="0"/>
<path d="M163,862 L158.8,866.2" fill="none" stroke="#888" stroke-width="0.6" />
<path d="M214.7,875 Q209,880 207,888" fill="none" stroke="#888" stroke-width="0.6" />
<path d="M257,876 Q251,884 248,892" fill="none" stroke="#888" stroke-width="0.6" />
<path d="M443.7,877.5 L448.7,888.7" fill="none" stroke="#888" stroke-width="0.6" />
<path d="M462,874 Q470,879 474,884" fill="none" stroke="#888" stroke-width="0.6" />
<path d="M531,861 Q537,864 538.8,866.8" fill="none" stroke="#888" stroke-width="0.6" />
<line x1="412.00" y1="880.00" x2="414.00" y2="878.00" stroke="#999" stroke-width="0.6" />
<defs>
<linearGradient id="armL" x1="0" y1="0" x2="0" y2="1">
 <stop offset="0" stop-color="#e9d200"/><stop offset="0.25" stop-color="#ffe400"/><stop offset="0.45" stop-color="#fff27a"/><stop offset="0.6" stop-color="#ffe300"/><stop offset="1" stop-color="#e8cf00"/></linearGradient>
<linearGradient id="armR" x1="0" y1="0" x2="0" y2="1">
 <stop offset="0" stop-color="#f2d800"/><stop offset="0.3" stop-color="#ffe85a"/><stop offset="0.5" stop-color="#ffe300"/><stop offset="1" stop-color="#f0d400"/></linearGradient>
<linearGradient id="nutL" x1="0" y1="0" x2="0" y2="1">
 <stop offset="0" stop-color="#7a7366"/><stop offset="0.35" stop-color="#b0a890"/><stop offset="0.55" stop-color="#e8e4d8"/><stop offset="0.7" stop-color="#a09a88"/><stop offset="1" stop-color="#6e685c"/></linearGradient>
<linearGradient id="nutR" x1="0" y1="0" x2="0" y2="1">
 <stop offset="0" stop-color="#6e5a40"/><stop offset="0.4" stop-color="#9c8260"/><stop offset="0.55" stop-color="#e0c8a8"/><stop offset="0.7" stop-color="#8c7250"/><stop offset="1" stop-color="#5e4a30"/></linearGradient>
<linearGradient id="silver" x1="0" y1="0.2" x2="1" y2="0.5">
 <stop offset="0" stop-color="#5c5c62"/><stop offset="0.3" stop-color="#9a9aa2"/><stop offset="0.6" stop-color="#d8d8e0"/><stop offset="1" stop-color="#ececf2"/></linearGradient>
<radialGradient id="block" cx="0.28" cy="0.38" r="0.75">
 <stop offset="0" stop-color="#5a5a60"/><stop offset="0.35" stop-color="#3a3a3e"/><stop offset="0.7" stop-color="#1c1c1e"/><stop offset="1" stop-color="#101010"/></radialGradient>
<radialGradient id="screw" cx="0.4" cy="0.4" r="0.7">
 <stop offset="0" stop-color="#ffffff"/><stop offset="0.6" stop-color="#d8d4cc"/><stop offset="1" stop-color="#8a847a"/></radialGradient>
</defs>
<rect x="405.60" y="1052.90" width="40.00" height="56.50" fill="url(#armL)" stroke="none" stroke-width="0" rx="3" />
<rect x="601.00" y="1052.40" width="40.80" height="59.40" fill="url(#armR)" stroke="none" stroke-width="0" rx="3" />
<rect x="402.60" y="1056.00" width="3.50" height="52.00" fill="#2a2620" stroke="none" stroke-width="0" rx="0" />
<rect x="391.50" y="1058.80" width="12.90" height="47.10" fill="url(#nutL)" stroke="#5a554a" stroke-width="0.6" rx="2" />
<rect x="640.60" y="1055.00" width="3.00" height="54.00" fill="#2a2218" stroke="none" stroke-width="0" rx="0" />
<rect x="642.80" y="1055.90" width="9.50" height="52.30" fill="url(#nutR)" stroke="#4a3a28" stroke-width="0.6" rx="2" />
<path d="M473.2,1130 L572.3,1130 L572.3,1189.4 L549.8,1189.4 L549.8,1195 L534,1195 L534,1181.5 L510.1,1181.5 L510.1,1194.7 L473.2,1194.7 Z" fill="#ffe000" stroke="none" stroke-width="0" />
<rect x="549.80" y="1145.00" width="22.50" height="44.40" fill="#f0d000" stroke="none" stroke-width="0" rx="0" />
<line x1="549.80" y1="1150.00" x2="549.80" y2="1195.00" stroke="#d8bc00" stroke-width="1" />
<rect x="510.10" y="1181.50" width="23.90" height="14.00" fill="#ecd000" stroke="none" stroke-width="0" rx="0" />
<rect x="510.10" y="1181.50" width="23.90" height="3.00" fill="#d4b600" stroke="none" stroke-width="0" rx="0" />
<rect x="510.10" y="1181.50" width="2.50" height="14.00" fill="#dcc000" stroke="none" stroke-width="0" rx="0" />
<line x1="473.20" y1="1168.50" x2="549.80" y2="1168.50" stroke="#f0d200" stroke-width="1.2" />
<ellipse cx="525" cy="1084" rx="83" ry="85" fill="#ffe000"/>
<ellipse cx="524.5" cy="1085" rx="80.2" ry="79.2" fill="#3c3c40"/>
<ellipse cx="524.5" cy="1085.6" rx="78.6" ry="78.2" fill="url(#silver)"/>
<ellipse cx="524.5" cy="1082" rx="66" ry="64.5" fill="#6a6a70" opacity="0.55"/>
<ellipse cx="524.5" cy="1080" rx="64.2" ry="63.2" fill="#0a0a0a"/>
<ellipse cx="524.5" cy="1079" rx="53.5" ry="52" fill="url(#block)"/>
<ellipse cx="524.5" cy="1079" rx="53.5" ry="52" fill="none" stroke="#2e2e30" stroke-width="1.2"/>
<path d="M593.8,1117.8 L591.9,1121.7 L589.7,1125.4 L587.4,1129.0 L584.8,1132.5 L582.0,1135.8 L579.1,1139.0 L575.9,1142.0 L572.6,1144.8 L569.2,1147.4 L565.6,1149.9 L561.9,1152.1 L558.0,1154.1 L554.1,1155.9 L550.0,1157.4 L545.9,1158.8 L541.7,1159.8 L537.5,1160.7 L533.2,1161.3 L528.8,1161.7 L524.5,1161.8 L520.2,1161.7 L515.8,1161.3 L511.5,1160.7 L507.3,1159.8 L503.1,1158.8 L499.0,1157.4 L494.9,1155.9 L491.0,1154.1 L487.1,1152.1 L483.4,1149.9 L479.8,1147.4 L476.4,1144.8 L473.1,1142.0 L469.9,1139.0 L467.0,1135.8 L464.2,1132.5 L461.6,1129.0 L459.3,1125.4 L457.1,1121.7 L455.2,1117.8" fill="none" stroke="#8e8e9a" stroke-width="2.4" />
<line x1="540.60" y1="1007.00" x2="539.60" y2="1016.50" stroke="#222" stroke-width="1.1" />
<line x1="499.50" y1="1145.00" x2="498.50" y2="1153.50" stroke="#333" stroke-width="1.1" />
<line x1="523.20" y1="1080.40" x2="476.30" y2="1055.80" stroke="#050505" stroke-width="2.4" />
<line x1="523.20" y1="1080.40" x2="476.30" y2="1055.80" stroke="#7a7a80" stroke-width="0.7" transform="translate(0,-1.3)"/>
<line x1="523.20" y1="1080.40" x2="523.20" y2="1132.00" stroke="#5a5a5e" stroke-width="1.2" />
<line x1="523.20" y1="1080.40" x2="570.00" y2="1058.00" stroke="#3a3a3a" stroke-width="1.2" />
<text transform="translate(505.6,1036.8) rotate(128)" font-family="Liberation Sans" font-weight="bold" font-size="10.5" fill="#e6dc30">ACL</text>
<text transform="translate(490.7,1064.6) rotate(127)" font-family="Liberation Sans" font-weight="bold" font-size="10.5" fill="#e6dc30">ACN</text>
<ellipse cx="526.5" cy="1043" rx="4.5" ry="3.8" fill="#a06a3a" opacity="0.85"/>
<path d="M522.5,1046 L529.5,1039 M524.5,1047 L531.5,1041 M521.5,1043 L527.5,1038 M526.5,1047 L530.5,1038" fill="none" stroke="#e0a070" stroke-width="1.1" />
<ellipse cx="541" cy="1091" rx="4.5" ry="3.8" fill="#a06a3a" opacity="0.85"/>
<path d="M537,1094 L544,1087 M539,1095 L546,1089 M536,1091 L542,1086 M541,1095 L545,1086" fill="none" stroke="#e0a070" stroke-width="1.1" />
<circle cx="523.20" cy="1054.50" r="8.20" fill="url(#screw)" stroke="#666" stroke-width="0.6"/>
<line x1="521.97" y1="1046.96" x2="524.43" y2="1062.04" stroke="#6a6a6a" stroke-width="1.1" />
<circle cx="495.50" cy="1099.80" r="8.40" fill="url(#screw)" stroke="#666" stroke-width="0.6"/>
<line x1="494.24" y1="1092.07" x2="496.76" y2="1107.53" stroke="#6a6a6a" stroke-width="1.1" />
<circle cx="549.50" cy="1100.00" r="8.40" fill="url(#screw)" stroke="#666" stroke-width="0.6"/>
<line x1="548.24" y1="1092.27" x2="550.76" y2="1107.73" stroke="#6a6a6a" stroke-width="1.1" />
<path d="M504,1094 Q516,1080 530,1075 Q560,1068 602,1081" fill="none" stroke="#050505" stroke-width="4.6" />
<path d="M521,1064 Q527,1057 545,1057 Q575,1057 602,1071" fill="none" stroke="#8a8a8a" stroke-width="5.6" />
<path d="M521,1064 Q527,1057 545,1057 Q575,1057 602,1071" fill="none" stroke="#fafafa" stroke-width="4.0" />
<path d="M561,1114 Q552,1100 554,1088 Q558,1072 578,1070 Q590,1070 602,1075" fill="none" stroke="#0a4a40" stroke-width="5" />
<path d="M561,1114 Q552,1100 554,1088 Q558,1072 578,1070 Q590,1070 602,1075" fill="none" stroke="#1fa08c" stroke-width="3.0" />
<polygon fill="#111" points="498.8,172.6 516.2,172.6 507.1,227.4 499.1,227.4 508.2,178.5 498.8,178.5"/>
<polygon fill="#111" points="71.5,404.1 115.2,404.1 110.1,434.1 73.5,434.1 71,452.1 107,452.1 106,458.3 61.7,458.3 67.4,427.9 102.9,427.9 106,410.4 70.4,410.4"/>
<polygon fill="#111" points="492.3,644.1 537.3,644.1 528.5,698.3 482.7,698.3 484.3,692.1 521.8,692.1 525.4,674.1 493.5,674.1 494,667.9 526.5,667.9 529,650.4 491.5,650.4"/>
</svg>
</body></html>
